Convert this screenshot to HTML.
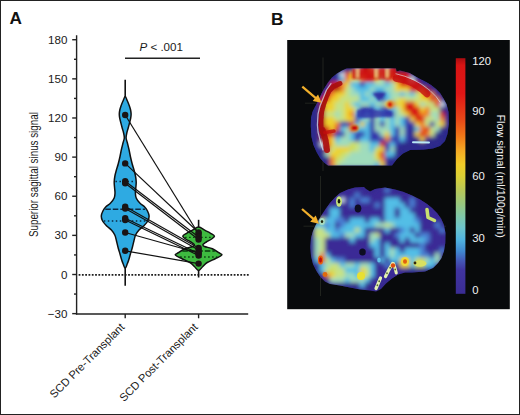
<!DOCTYPE html><html><head><meta charset="utf-8"><style>
html,body{margin:0;padding:0;background:#fff;}
svg{display:block;}
text{font-family:"Liberation Sans",sans-serif;}
</style></head><body>
<svg width="520" height="415" viewBox="0 0 520 415">
<rect x="0" y="0" width="520" height="415" fill="#fff"/>

<text x="9.4" y="24.1" font-size="17.2" font-weight="bold" fill="#111">A</text>
<text x="271" y="24.9" font-size="17.4" font-weight="bold" fill="#111">B</text>
<g stroke="#222" stroke-width="1.4" fill="none">
<line x1="76.6" y1="35.2" x2="76.6" y2="314.5"/>
<line x1="75.9" y1="314" x2="248.2" y2="314"/>
<line x1="72.2" y1="313.63" x2="76.6" y2="313.63"/>
<line x1="72.2" y1="274.50" x2="76.6" y2="274.50"/>
<line x1="72.2" y1="235.37" x2="76.6" y2="235.37"/>
<line x1="72.2" y1="196.24" x2="76.6" y2="196.24"/>
<line x1="72.2" y1="157.11" x2="76.6" y2="157.11"/>
<line x1="72.2" y1="117.98" x2="76.6" y2="117.98"/>
<line x1="72.2" y1="78.85" x2="76.6" y2="78.85"/>
<line x1="72.2" y1="39.73" x2="76.6" y2="39.73"/>
<line x1="74.0" y1="294.06" x2="76.6" y2="294.06"/>
<line x1="74.0" y1="254.94" x2="76.6" y2="254.94"/>
<line x1="74.0" y1="215.81" x2="76.6" y2="215.81"/>
<line x1="74.0" y1="176.68" x2="76.6" y2="176.68"/>
<line x1="74.0" y1="137.55" x2="76.6" y2="137.55"/>
<line x1="74.0" y1="98.42" x2="76.6" y2="98.42"/>
<line x1="74.0" y1="59.29" x2="76.6" y2="59.29"/>
<line x1="125.2" y1="314" x2="125.2" y2="318.3"/>
<line x1="198.6" y1="314" x2="198.6" y2="318.3"/>
</g>
<g font-size="11.6" fill="#1a1a1a" text-anchor="end">
<text x="67.4" y="317.73">−30</text>
<text x="67.4" y="278.60">0</text>
<text x="67.4" y="239.47">30</text>
<text x="67.4" y="200.34">60</text>
<text x="67.4" y="161.21">90</text>
<text x="67.4" y="122.08">120</text>
<text x="67.4" y="82.95">150</text>
<text x="67.4" y="43.83">180</text>
</g>
<text transform="translate(38.3,174.6) rotate(-90) scale(0.78,1)" font-size="12.6" fill="#1a1a1a" text-anchor="middle">Superior sagittal sinus signal</text>
<line x1="78.6" y1="274.8" x2="249" y2="274.8" stroke="#1e1e1e" stroke-width="1.8" stroke-dasharray="1.8,1.5"/>
<line x1="125.2" y1="79.8" x2="125.2" y2="285.8" stroke="#111" stroke-width="1.6"/>
<line x1="198.6" y1="219.8" x2="198.6" y2="277.5" stroke="#111" stroke-width="1.6"/>
<path d="M125.20,96.50 C125.93,96.50 126.70,99.42 127.40,101.00 C128.10,102.58 128.87,104.50 129.40,106.00 C129.93,107.50 130.32,108.67 130.60,110.00 C130.88,111.33 131.08,112.67 131.10,114.00 C131.12,115.33 130.97,116.50 130.70,118.00 C130.43,119.50 129.92,121.33 129.50,123.00 C129.08,124.67 128.65,126.33 128.20,128.00 C127.75,129.67 127.15,131.33 126.80,133.00 C126.45,134.67 126.00,136.33 126.10,138.00 C126.20,139.67 126.90,141.00 127.40,143.00 C127.90,145.00 128.58,147.67 129.10,150.00 C129.62,152.33 129.98,154.67 130.50,157.00 C131.02,159.33 131.62,161.83 132.20,164.00 C132.78,166.17 133.45,168.00 134.00,170.00 C134.55,172.00 135.13,174.00 135.50,176.00 C135.87,178.00 136.15,180.00 136.20,182.00 C136.25,184.00 135.93,186.17 135.80,188.00 C135.67,189.83 135.33,191.33 135.40,193.00 C135.47,194.67 135.47,196.33 136.20,198.00 C136.93,199.67 138.38,201.50 139.80,203.00 C141.22,204.50 143.42,205.67 144.70,207.00 C145.98,208.33 146.77,209.50 147.50,211.00 C148.23,212.50 149.05,214.33 149.10,216.00 C149.15,217.67 148.70,219.33 147.80,221.00 C146.90,222.67 145.17,224.50 143.70,226.00 C142.23,227.50 140.35,228.50 139.00,230.00 C137.65,231.50 136.45,233.17 135.60,235.00 C134.75,236.83 134.47,238.83 133.90,241.00 C133.33,243.17 132.78,245.83 132.20,248.00 C131.62,250.17 130.98,252.00 130.40,254.00 C129.82,256.00 129.23,258.33 128.70,260.00 C128.17,261.67 127.78,262.62 127.20,264.00 C126.62,265.38 125.87,268.30 125.20,268.30 C124.53,268.30 123.78,265.38 123.20,264.00 C122.62,262.62 122.23,261.67 121.70,260.00 C121.17,258.33 120.58,256.00 120.00,254.00 C119.42,252.00 118.78,250.17 118.20,248.00 C117.62,245.83 117.07,243.17 116.50,241.00 C115.93,238.83 115.65,236.83 114.80,235.00 C113.95,233.17 112.75,231.50 111.40,230.00 C110.05,228.50 108.17,227.50 106.70,226.00 C105.23,224.50 103.50,222.67 102.60,221.00 C101.70,219.33 101.25,217.67 101.30,216.00 C101.35,214.33 102.17,212.50 102.90,211.00 C103.63,209.50 104.42,208.33 105.70,207.00 C106.98,205.67 109.18,204.50 110.60,203.00 C112.02,201.50 113.47,199.67 114.20,198.00 C114.93,196.33 114.93,194.67 115.00,193.00 C115.07,191.33 114.73,189.83 114.60,188.00 C114.47,186.17 114.15,184.00 114.20,182.00 C114.25,180.00 114.53,178.00 114.90,176.00 C115.27,174.00 115.85,172.00 116.40,170.00 C116.95,168.00 117.62,166.17 118.20,164.00 C118.78,161.83 119.38,159.33 119.90,157.00 C120.42,154.67 120.78,152.33 121.30,150.00 C121.82,147.67 122.50,145.00 123.00,143.00 C123.50,141.00 124.20,139.67 124.30,138.00 C124.40,136.33 123.95,134.67 123.60,133.00 C123.25,131.33 122.65,129.67 122.20,128.00 C121.75,126.33 121.32,124.67 120.90,123.00 C120.48,121.33 119.97,119.50 119.70,118.00 C119.43,116.50 119.28,115.33 119.30,114.00 C119.32,112.67 119.52,111.33 119.80,110.00 C120.08,108.67 120.47,107.50 121.00,106.00 C121.53,104.50 122.30,102.58 123.00,101.00 C123.70,99.42 124.47,96.50 125.20,96.50Z" fill="#2eaae2" stroke="#111" stroke-width="1.5"/>
<path d="M198.60,227.00 C200.77,227.00 203.10,229.35 205.10,230.40 C207.10,231.45 209.05,232.33 210.60,233.30 C212.15,234.27 214.23,235.25 214.40,236.20 C214.57,237.15 212.95,238.03 211.60,239.00 C210.25,239.97 207.73,241.07 206.30,242.00 C204.87,242.93 203.28,243.85 203.00,244.60 C202.72,245.35 203.03,245.82 204.60,246.50 C206.17,247.18 210.03,247.67 212.40,248.70 C214.77,249.73 217.23,251.65 218.80,252.70 C220.37,253.75 222.33,254.03 221.80,255.00 C221.27,255.97 218.03,257.25 215.60,258.50 C213.17,259.75 209.33,261.17 207.20,262.50 C205.07,263.83 204.23,265.18 202.80,266.50 C201.37,267.82 200.00,270.40 198.60,270.40 C197.20,270.40 195.83,267.82 194.40,266.50 C192.97,265.18 192.13,263.83 190.00,262.50 C187.87,261.17 184.03,259.75 181.60,258.50 C179.17,257.25 175.93,255.97 175.40,255.00 C174.87,254.03 176.83,253.75 178.40,252.70 C179.97,251.65 182.43,249.73 184.80,248.70 C187.17,247.67 191.03,247.18 192.60,246.50 C194.17,245.82 194.48,245.35 194.20,244.60 C193.92,243.85 192.33,242.93 190.90,242.00 C189.47,241.07 186.95,239.97 185.60,239.00 C184.25,238.03 182.63,237.15 182.80,236.20 C182.97,235.25 185.05,234.27 186.60,233.30 C188.15,232.33 190.10,231.45 192.10,230.40 C194.10,229.35 196.43,227.00 198.60,227.00Z" fill="#3eba40" stroke="#111" stroke-width="1.5"/>
<line x1="115.46" y1="181.5" x2="134.94" y2="181.5" stroke="#0c2a44" stroke-width="1.3" stroke-dasharray="1.5,2.5"/>
<line x1="105.29" y1="209.3" x2="145.11" y2="209.3" stroke="#0c2a44" stroke-width="1.6" stroke-dasharray="5.5,2"/>
<line x1="103.80" y1="221.0" x2="146.60" y2="221.0" stroke="#0c2a44" stroke-width="1.3" stroke-dasharray="1.5,2.5"/>
<line x1="185.10" y1="237.3" x2="212.10" y2="237.3" stroke="#0a3a0e" stroke-width="1.3" stroke-dasharray="1.5,2.5"/>
<line x1="182.32" y1="251.0" x2="214.88" y2="251.0" stroke="#0a3a0e" stroke-width="1.5" stroke-dasharray="5.5,2"/>
<line x1="180.14" y1="257.0" x2="217.06" y2="257.0" stroke="#0a3a0e" stroke-width="1.3" stroke-dasharray="1.5,2.5"/>
<g stroke="#111" stroke-width="1.2">
<line x1="125.2" y1="115.0" x2="198.6" y2="234.0"/>
<line x1="125.2" y1="163.4" x2="198.6" y2="232.5"/>
<line x1="125.2" y1="181.3" x2="198.6" y2="237.0"/>
<line x1="125.2" y1="183.2" x2="198.6" y2="239.5"/>
<line x1="125.2" y1="206.6" x2="198.6" y2="248.0"/>
<line x1="125.2" y1="208.6" x2="198.6" y2="250.0"/>
<line x1="125.2" y1="218.2" x2="198.6" y2="253.5"/>
<line x1="125.2" y1="220.0" x2="198.6" y2="255.5"/>
<line x1="125.2" y1="232.5" x2="198.6" y2="253.0"/>
<line x1="125.2" y1="250.8" x2="198.6" y2="263.6"/>
</g>
<g fill="#1a1414">
<circle cx="125.2" cy="115.0" r="3.2"/>
<circle cx="125.2" cy="163.4" r="3.2"/>
<circle cx="125.2" cy="181.3" r="3.2"/>
<circle cx="125.2" cy="183.2" r="3.2"/>
<circle cx="125.2" cy="206.6" r="3.2"/>
<circle cx="125.2" cy="208.6" r="3.2"/>
<circle cx="125.2" cy="218.2" r="3.2"/>
<circle cx="125.2" cy="220.0" r="3.2"/>
<circle cx="125.2" cy="232.5" r="3.2"/>
<circle cx="125.2" cy="250.8" r="3.2"/>
<circle cx="198.6" cy="234.0" r="3.2"/>
<circle cx="198.6" cy="232.5" r="3.2"/>
<circle cx="198.6" cy="237.0" r="3.2"/>
<circle cx="198.6" cy="239.5" r="3.2"/>
<circle cx="198.6" cy="248.0" r="3.2"/>
<circle cx="198.6" cy="250.0" r="3.2"/>
<circle cx="198.6" cy="253.5" r="3.2"/>
<circle cx="198.6" cy="255.5" r="3.2"/>
<circle cx="198.6" cy="253.0" r="3.2"/>
<circle cx="198.6" cy="263.6" r="3.2"/>
</g>
<line x1="125" y1="58.3" x2="200" y2="58.3" stroke="#222" stroke-width="1.5"/>
<text x="161.2" y="51.2" font-size="11.6" fill="#1a1a1a" text-anchor="middle"><tspan font-style="italic">P</tspan> &lt; .001</text>
<text transform="translate(125.2,327.8) rotate(-45)" font-size="11.2" fill="#1a1a1a" text-anchor="end">SCD Pre-Transplant</text>
<text transform="translate(198.4,327.8) rotate(-45)" font-size="11.2" fill="#1a1a1a" text-anchor="end">SCD Post-Transplant</text>
<rect x="287.2" y="40" width="222.6" height="269.2" fill="#080a0c"/>
<defs>
<filter id="bl1" x="-10%" y="-10%" width="120%" height="120%"><feGaussianBlur stdDeviation="2.0"/></filter>
<filter id="bl2" x="-20%" y="-20%" width="140%" height="140%"><feGaussianBlur stdDeviation="0.7"/></filter>
<filter id="bl4" x="-20%" y="-20%" width="140%" height="140%"><feGaussianBlur stdDeviation="1.3"/></filter>
<filter id="bl3" x="-10%" y="-10%" width="120%" height="120%"><feGaussianBlur stdDeviation="0.75"/></filter>
</defs>
<g stroke="#4c5040" stroke-width="0.9" opacity="0.4">
<line x1="323" y1="57.5" x2="323" y2="171"/>
<line x1="305" y1="103.2" x2="446" y2="103.2"/>
<line x1="320.5" y1="176" x2="320.5" y2="296"/>
<line x1="303.5" y1="226.2" x2="446" y2="226.2"/>
</g>
<defs><clipPath id="cu2"><path d="M347,68.6 L396,68.6 L396.5,71.5 L400,70.5 L409.6,73 L419,78.5 L426,82 L431,85 L436,89 L440,93 L443.5,98.5 L446.5,104 L448.5,112 L448.8,124 L447.5,134 L445,141 L440,146 L433,148.5 L424,149.5 L410,150 L403,153.5 L397,159 L392,165.6 L328,165.6 L324,162.5 L320,158 L316.5,152 L313.5,145 L311.5,137 L310.8,126 L311,118 L312.5,112 L315,107 L318.5,100.5 L321.5,93.5 L324.5,88 L328,82.5 L332,77.5 L337,73.5 L342,70.5 L346,68.8 Z"/></clipPath><clipPath id="cl2"><path d="M318,221 L322,214.5 L326,208.5 L330,203 L335,197.5 L340,193 L348,189.5 L355,187.5 L364,187 L366,189 L370,191.5 L375,189 L385,187.5 L395,189.5 L403,191.8 L412,195.5 L420,199.5 L427,204 L432,208 L437,213 L441,218.5 L444,225 L445.5,233 L445.3,243 L444,251 L441.5,258 L438,263 L433,268 L425,271.5 L412,272.5 L405,272.5 L398,274.5 L392,278.5 L386,283.5 L381,289 L376,291.5 L370,290.5 L360,289.5 L350,287.5 L340,285.5 L330,284 L325,281.5 L320.5,277 L316.5,271 L313,264 L311,256 L310.3,247 L311,238 L313,231 L315.5,225.5 Z"/></clipPath></defs>
<g filter="url(#bl3)"><g clip-path="url(#cu2)"><rect x="300" y="60" width="155" height="110" fill="#2c288a"/><g filter="url(#bl1)"><rect x="344.7" y="66.7" width="5.6" height="5.6" fill="#2e2a8c"/><rect x="349.7" y="66.7" width="5.6" height="5.6" fill="#2e2a8c"/><rect x="354.7" y="66.7" width="5.6" height="5.6" fill="#d4e8ee"/><rect x="359.7" y="66.7" width="5.6" height="5.6" fill="#d81818"/><rect x="364.7" y="66.7" width="5.6" height="5.6" fill="#a60c0e"/><rect x="369.7" y="66.7" width="5.6" height="5.6" fill="#f08020"/><rect x="374.7" y="66.7" width="5.6" height="5.6" fill="#d4e8ee"/><rect x="379.7" y="66.7" width="5.6" height="5.6" fill="#d81818"/><rect x="384.7" y="66.7" width="5.6" height="5.6" fill="#d4e8ee"/><rect x="389.7" y="66.7" width="5.6" height="5.6" fill="#d81818"/><rect x="334.7" y="71.7" width="5.6" height="5.6" fill="#2e2a8c"/><rect x="339.7" y="71.7" width="5.6" height="5.6" fill="#d4e8ee"/><rect x="344.7" y="71.7" width="5.6" height="5.6" fill="#d81818"/><rect x="349.7" y="71.7" width="5.6" height="5.6" fill="#eed22e"/><rect x="354.7" y="71.7" width="5.6" height="5.6" fill="#d81818"/><rect x="359.7" y="71.7" width="5.6" height="5.6" fill="#d81818"/><rect x="364.7" y="71.7" width="5.6" height="5.6" fill="#d81818"/><rect x="369.7" y="71.7" width="5.6" height="5.6" fill="#d81818"/><rect x="374.7" y="71.7" width="5.6" height="5.6" fill="#eed22e"/><rect x="379.7" y="71.7" width="5.6" height="5.6" fill="#d81818"/><rect x="384.7" y="71.7" width="5.6" height="5.6" fill="#eed22e"/><rect x="389.7" y="71.7" width="5.6" height="5.6" fill="#d81818"/><rect x="394.7" y="71.7" width="5.6" height="5.6" fill="#d81818"/><rect x="399.7" y="71.7" width="5.6" height="5.6" fill="#d81818"/><rect x="404.7" y="71.7" width="5.6" height="5.6" fill="#d81818"/><rect x="409.7" y="71.7" width="5.6" height="5.6" fill="#2e2a8c"/><rect x="414.7" y="71.7" width="5.6" height="5.6" fill="#2e2a8c"/><rect x="329.7" y="76.7" width="5.6" height="5.6" fill="#2e2a8c"/><rect x="334.7" y="76.7" width="5.6" height="5.6" fill="#3436ac"/><rect x="339.7" y="76.7" width="5.6" height="5.6" fill="#52bee6"/><rect x="344.7" y="76.7" width="5.6" height="5.6" fill="#f08020"/><rect x="349.7" y="76.7" width="5.6" height="5.6" fill="#eed22e"/><rect x="354.7" y="76.7" width="5.6" height="5.6" fill="#c6e286"/><rect x="359.7" y="76.7" width="5.6" height="5.6" fill="#f08020"/><rect x="364.7" y="76.7" width="5.6" height="5.6" fill="#d81818"/><rect x="369.7" y="76.7" width="5.6" height="5.6" fill="#d81818"/><rect x="374.7" y="76.7" width="5.6" height="5.6" fill="#eed22e"/><rect x="379.7" y="76.7" width="5.6" height="5.6" fill="#a0dcbc"/><rect x="384.7" y="76.7" width="5.6" height="5.6" fill="#d81818"/><rect x="389.7" y="76.7" width="5.6" height="5.6" fill="#f08020"/><rect x="394.7" y="76.7" width="5.6" height="5.6" fill="#d81818"/><rect x="399.7" y="76.7" width="5.6" height="5.6" fill="#d81818"/><rect x="404.7" y="76.7" width="5.6" height="5.6" fill="#d81818"/><rect x="409.7" y="76.7" width="5.6" height="5.6" fill="#d4e8ee"/><rect x="414.7" y="76.7" width="5.6" height="5.6" fill="#2e2a8c"/><rect x="419.7" y="76.7" width="5.6" height="5.6" fill="#2e2a8c"/><rect x="424.7" y="76.7" width="5.6" height="5.6" fill="#2e2a8c"/><rect x="324.7" y="81.7" width="5.6" height="5.6" fill="#2e2a8c"/><rect x="329.7" y="81.7" width="5.6" height="5.6" fill="#d81818"/><rect x="334.7" y="81.7" width="5.6" height="5.6" fill="#d81818"/><rect x="339.7" y="81.7" width="5.6" height="5.6" fill="#f08020"/><rect x="344.7" y="81.7" width="5.6" height="5.6" fill="#eed22e"/><rect x="349.7" y="81.7" width="5.6" height="5.6" fill="#52bee6"/><rect x="354.7" y="81.7" width="5.6" height="5.6" fill="#52bee6"/><rect x="359.7" y="81.7" width="5.6" height="5.6" fill="#3436ac"/><rect x="364.7" y="81.7" width="5.6" height="5.6" fill="#52bee6"/><rect x="369.7" y="81.7" width="5.6" height="5.6" fill="#52bee6"/><rect x="374.7" y="81.7" width="5.6" height="5.6" fill="#a0dcbc"/><rect x="379.7" y="81.7" width="5.6" height="5.6" fill="#a0dcbc"/><rect x="384.7" y="81.7" width="5.6" height="5.6" fill="#52bee6"/><rect x="389.7" y="81.7" width="5.6" height="5.6" fill="#a0dcbc"/><rect x="394.7" y="81.7" width="5.6" height="5.6" fill="#eed22e"/><rect x="399.7" y="81.7" width="5.6" height="5.6" fill="#d81818"/><rect x="404.7" y="81.7" width="5.6" height="5.6" fill="#d81818"/><rect x="409.7" y="81.7" width="5.6" height="5.6" fill="#d81818"/><rect x="414.7" y="81.7" width="5.6" height="5.6" fill="#d81818"/><rect x="419.7" y="81.7" width="5.6" height="5.6" fill="#2e2a8c"/><rect x="424.7" y="81.7" width="5.6" height="5.6" fill="#2e2a8c"/><rect x="429.7" y="81.7" width="5.6" height="5.6" fill="#2e2a8c"/><rect x="319.7" y="86.7" width="5.6" height="5.6" fill="#2e2a8c"/><rect x="324.7" y="86.7" width="5.6" height="5.6" fill="#2e2a8c"/><rect x="329.7" y="86.7" width="5.6" height="5.6" fill="#d81818"/><rect x="334.7" y="86.7" width="5.6" height="5.6" fill="#a60c0e"/><rect x="339.7" y="86.7" width="5.6" height="5.6" fill="#f08020"/><rect x="344.7" y="86.7" width="5.6" height="5.6" fill="#c6e286"/><rect x="349.7" y="86.7" width="5.6" height="5.6" fill="#a0dcbc"/><rect x="354.7" y="86.7" width="5.6" height="5.6" fill="#52bee6"/><rect x="359.7" y="86.7" width="5.6" height="5.6" fill="#52bee6"/><rect x="364.7" y="86.7" width="5.6" height="5.6" fill="#52bee6"/><rect x="369.7" y="86.7" width="5.6" height="5.6" fill="#a0dcbc"/><rect x="374.7" y="86.7" width="5.6" height="5.6" fill="#52bee6"/><rect x="379.7" y="86.7" width="5.6" height="5.6" fill="#52bee6"/><rect x="384.7" y="86.7" width="5.6" height="5.6" fill="#a0dcbc"/><rect x="389.7" y="86.7" width="5.6" height="5.6" fill="#a0dcbc"/><rect x="394.7" y="86.7" width="5.6" height="5.6" fill="#eed22e"/><rect x="399.7" y="86.7" width="5.6" height="5.6" fill="#eed22e"/><rect x="404.7" y="86.7" width="5.6" height="5.6" fill="#eed22e"/><rect x="409.7" y="86.7" width="5.6" height="5.6" fill="#d81818"/><rect x="414.7" y="86.7" width="5.6" height="5.6" fill="#d81818"/><rect x="419.7" y="86.7" width="5.6" height="5.6" fill="#f08020"/><rect x="424.7" y="86.7" width="5.6" height="5.6" fill="#a60c0e"/><rect x="429.7" y="86.7" width="5.6" height="5.6" fill="#2e2a8c"/><rect x="434.7" y="86.7" width="5.6" height="5.6" fill="#2e2a8c"/><rect x="314.7" y="91.7" width="5.6" height="5.6" fill="#2e2a8c"/><rect x="319.7" y="91.7" width="5.6" height="5.6" fill="#2e2a8c"/><rect x="324.7" y="91.7" width="5.6" height="5.6" fill="#d81818"/><rect x="329.7" y="91.7" width="5.6" height="5.6" fill="#f08020"/><rect x="334.7" y="91.7" width="5.6" height="5.6" fill="#eed22e"/><rect x="339.7" y="91.7" width="5.6" height="5.6" fill="#eed22e"/><rect x="344.7" y="91.7" width="5.6" height="5.6" fill="#c6e286"/><rect x="349.7" y="91.7" width="5.6" height="5.6" fill="#a0dcbc"/><rect x="354.7" y="91.7" width="5.6" height="5.6" fill="#a0dcbc"/><rect x="359.7" y="91.7" width="5.6" height="5.6" fill="#52bee6"/><rect x="364.7" y="91.7" width="5.6" height="5.6" fill="#a0dcbc"/><rect x="369.7" y="91.7" width="5.6" height="5.6" fill="#52bee6"/><rect x="374.7" y="91.7" width="5.6" height="5.6" fill="#3436ac"/><rect x="379.7" y="91.7" width="5.6" height="5.6" fill="#3436ac"/><rect x="384.7" y="91.7" width="5.6" height="5.6" fill="#52bee6"/><rect x="389.7" y="91.7" width="5.6" height="5.6" fill="#a0dcbc"/><rect x="394.7" y="91.7" width="5.6" height="5.6" fill="#a0dcbc"/><rect x="399.7" y="91.7" width="5.6" height="5.6" fill="#52bee6"/><rect x="404.7" y="91.7" width="5.6" height="5.6" fill="#a0dcbc"/><rect x="409.7" y="91.7" width="5.6" height="5.6" fill="#52bee6"/><rect x="414.7" y="91.7" width="5.6" height="5.6" fill="#c6e286"/><rect x="419.7" y="91.7" width="5.6" height="5.6" fill="#eed22e"/><rect x="424.7" y="91.7" width="5.6" height="5.6" fill="#d81818"/><rect x="429.7" y="91.7" width="5.6" height="5.6" fill="#f08020"/><rect x="434.7" y="91.7" width="5.6" height="5.6" fill="#2e2a8c"/><rect x="439.7" y="91.7" width="5.6" height="5.6" fill="#2e2a8c"/><rect x="314.7" y="96.7" width="5.6" height="5.6" fill="#2e2a8c"/><rect x="319.7" y="96.7" width="5.6" height="5.6" fill="#d81818"/><rect x="324.7" y="96.7" width="5.6" height="5.6" fill="#d81818"/><rect x="329.7" y="96.7" width="5.6" height="5.6" fill="#eed22e"/><rect x="334.7" y="96.7" width="5.6" height="5.6" fill="#eed22e"/><rect x="339.7" y="96.7" width="5.6" height="5.6" fill="#c6e286"/><rect x="344.7" y="96.7" width="5.6" height="5.6" fill="#c6e286"/><rect x="349.7" y="96.7" width="5.6" height="5.6" fill="#c6e286"/><rect x="354.7" y="96.7" width="5.6" height="5.6" fill="#c6e286"/><rect x="359.7" y="96.7" width="5.6" height="5.6" fill="#52bee6"/><rect x="364.7" y="96.7" width="5.6" height="5.6" fill="#52bee6"/><rect x="369.7" y="96.7" width="5.6" height="5.6" fill="#a0dcbc"/><rect x="374.7" y="96.7" width="5.6" height="5.6" fill="#52bee6"/><rect x="379.7" y="96.7" width="5.6" height="5.6" fill="#3436ac"/><rect x="384.7" y="96.7" width="5.6" height="5.6" fill="#52bee6"/><rect x="389.7" y="96.7" width="5.6" height="5.6" fill="#a0dcbc"/><rect x="394.7" y="96.7" width="5.6" height="5.6" fill="#c6e286"/><rect x="399.7" y="96.7" width="5.6" height="5.6" fill="#eed22e"/><rect x="404.7" y="96.7" width="5.6" height="5.6" fill="#c6e286"/><rect x="409.7" y="96.7" width="5.6" height="5.6" fill="#c6e286"/><rect x="414.7" y="96.7" width="5.6" height="5.6" fill="#c6e286"/><rect x="419.7" y="96.7" width="5.6" height="5.6" fill="#eed22e"/><rect x="424.7" y="96.7" width="5.6" height="5.6" fill="#eed22e"/><rect x="429.7" y="96.7" width="5.6" height="5.6" fill="#d81818"/><rect x="434.7" y="96.7" width="5.6" height="5.6" fill="#f08020"/><rect x="439.7" y="96.7" width="5.6" height="5.6" fill="#2e2a8c"/><rect x="309.7" y="101.7" width="5.6" height="5.6" fill="#2e2a8c"/><rect x="314.7" y="101.7" width="5.6" height="5.6" fill="#2e2a8c"/><rect x="319.7" y="101.7" width="5.6" height="5.6" fill="#a60c0e"/><rect x="324.7" y="101.7" width="5.6" height="5.6" fill="#eed22e"/><rect x="329.7" y="101.7" width="5.6" height="5.6" fill="#eed22e"/><rect x="334.7" y="101.7" width="5.6" height="5.6" fill="#c6e286"/><rect x="339.7" y="101.7" width="5.6" height="5.6" fill="#c6e286"/><rect x="344.7" y="101.7" width="5.6" height="5.6" fill="#eed22e"/><rect x="349.7" y="101.7" width="5.6" height="5.6" fill="#a0dcbc"/><rect x="354.7" y="101.7" width="5.6" height="5.6" fill="#52bee6"/><rect x="359.7" y="101.7" width="5.6" height="5.6" fill="#a0dcbc"/><rect x="364.7" y="101.7" width="5.6" height="5.6" fill="#a0dcbc"/><rect x="369.7" y="101.7" width="5.6" height="5.6" fill="#52bee6"/><rect x="374.7" y="101.7" width="5.6" height="5.6" fill="#a0dcbc"/><rect x="379.7" y="101.7" width="5.6" height="5.6" fill="#a0dcbc"/><rect x="384.7" y="101.7" width="5.6" height="5.6" fill="#eed22e"/><rect x="389.7" y="101.7" width="5.6" height="5.6" fill="#d81818"/><rect x="394.7" y="101.7" width="5.6" height="5.6" fill="#eed22e"/><rect x="399.7" y="101.7" width="5.6" height="5.6" fill="#eed22e"/><rect x="404.7" y="101.7" width="5.6" height="5.6" fill="#d81818"/><rect x="409.7" y="101.7" width="5.6" height="5.6" fill="#d81818"/><rect x="414.7" y="101.7" width="5.6" height="5.6" fill="#eed22e"/><rect x="419.7" y="101.7" width="5.6" height="5.6" fill="#a0dcbc"/><rect x="424.7" y="101.7" width="5.6" height="5.6" fill="#c6e286"/><rect x="429.7" y="101.7" width="5.6" height="5.6" fill="#c6e286"/><rect x="434.7" y="101.7" width="5.6" height="5.6" fill="#d81818"/><rect x="439.7" y="101.7" width="5.6" height="5.6" fill="#d4e8ee"/><rect x="444.7" y="101.7" width="5.6" height="5.6" fill="#2e2a8c"/><rect x="309.7" y="106.7" width="5.6" height="5.6" fill="#2e2a8c"/><rect x="314.7" y="106.7" width="5.6" height="5.6" fill="#2e2a8c"/><rect x="319.7" y="106.7" width="5.6" height="5.6" fill="#a60c0e"/><rect x="324.7" y="106.7" width="5.6" height="5.6" fill="#eed22e"/><rect x="329.7" y="106.7" width="5.6" height="5.6" fill="#eed22e"/><rect x="334.7" y="106.7" width="5.6" height="5.6" fill="#c6e286"/><rect x="339.7" y="106.7" width="5.6" height="5.6" fill="#c6e286"/><rect x="344.7" y="106.7" width="5.6" height="5.6" fill="#eed22e"/><rect x="349.7" y="106.7" width="5.6" height="5.6" fill="#eed22e"/><rect x="354.7" y="106.7" width="5.6" height="5.6" fill="#a0dcbc"/><rect x="359.7" y="106.7" width="5.6" height="5.6" fill="#3436ac"/><rect x="364.7" y="106.7" width="5.6" height="5.6" fill="#3436ac"/><rect x="369.7" y="106.7" width="5.6" height="5.6" fill="#3436ac"/><rect x="374.7" y="106.7" width="5.6" height="5.6" fill="#52bee6"/><rect x="379.7" y="106.7" width="5.6" height="5.6" fill="#3436ac"/><rect x="384.7" y="106.7" width="5.6" height="5.6" fill="#3436ac"/><rect x="389.7" y="106.7" width="5.6" height="5.6" fill="#52bee6"/><rect x="394.7" y="106.7" width="5.6" height="5.6" fill="#a0dcbc"/><rect x="399.7" y="106.7" width="5.6" height="5.6" fill="#eed22e"/><rect x="404.7" y="106.7" width="5.6" height="5.6" fill="#d81818"/><rect x="409.7" y="106.7" width="5.6" height="5.6" fill="#d81818"/><rect x="414.7" y="106.7" width="5.6" height="5.6" fill="#d81818"/><rect x="419.7" y="106.7" width="5.6" height="5.6" fill="#eed22e"/><rect x="424.7" y="106.7" width="5.6" height="5.6" fill="#f08020"/><rect x="429.7" y="106.7" width="5.6" height="5.6" fill="#c6e286"/><rect x="434.7" y="106.7" width="5.6" height="5.6" fill="#c6e286"/><rect x="439.7" y="106.7" width="5.6" height="5.6" fill="#2e2a8c"/><rect x="444.7" y="106.7" width="5.6" height="5.6" fill="#2e2a8c"/><rect x="309.7" y="111.7" width="5.6" height="5.6" fill="#2e2a8c"/><rect x="314.7" y="111.7" width="5.6" height="5.6" fill="#2e2a8c"/><rect x="319.7" y="111.7" width="5.6" height="5.6" fill="#a60c0e"/><rect x="324.7" y="111.7" width="5.6" height="5.6" fill="#c6e286"/><rect x="329.7" y="111.7" width="5.6" height="5.6" fill="#c6e286"/><rect x="334.7" y="111.7" width="5.6" height="5.6" fill="#a0dcbc"/><rect x="339.7" y="111.7" width="5.6" height="5.6" fill="#c6e286"/><rect x="344.7" y="111.7" width="5.6" height="5.6" fill="#eed22e"/><rect x="349.7" y="111.7" width="5.6" height="5.6" fill="#f08020"/><rect x="354.7" y="111.7" width="5.6" height="5.6" fill="#52bee6"/><rect x="359.7" y="111.7" width="5.6" height="5.6" fill="#3436ac"/><rect x="364.7" y="111.7" width="5.6" height="5.6" fill="#52bee6"/><rect x="369.7" y="111.7" width="5.6" height="5.6" fill="#3436ac"/><rect x="374.7" y="111.7" width="5.6" height="5.6" fill="#a0dcbc"/><rect x="379.7" y="111.7" width="5.6" height="5.6" fill="#52bee6"/><rect x="384.7" y="111.7" width="5.6" height="5.6" fill="#3436ac"/><rect x="389.7" y="111.7" width="5.6" height="5.6" fill="#3436ac"/><rect x="394.7" y="111.7" width="5.6" height="5.6" fill="#a0dcbc"/><rect x="399.7" y="111.7" width="5.6" height="5.6" fill="#c6e286"/><rect x="404.7" y="111.7" width="5.6" height="5.6" fill="#eed22e"/><rect x="409.7" y="111.7" width="5.6" height="5.6" fill="#d81818"/><rect x="414.7" y="111.7" width="5.6" height="5.6" fill="#d81818"/><rect x="419.7" y="111.7" width="5.6" height="5.6" fill="#f08020"/><rect x="424.7" y="111.7" width="5.6" height="5.6" fill="#f08020"/><rect x="429.7" y="111.7" width="5.6" height="5.6" fill="#a0dcbc"/><rect x="434.7" y="111.7" width="5.6" height="5.6" fill="#a0dcbc"/><rect x="439.7" y="111.7" width="5.6" height="5.6" fill="#d81818"/><rect x="444.7" y="111.7" width="5.6" height="5.6" fill="#2e2a8c"/><rect x="309.7" y="116.7" width="5.6" height="5.6" fill="#2e2a8c"/><rect x="314.7" y="116.7" width="5.6" height="5.6" fill="#2e2a8c"/><rect x="319.7" y="116.7" width="5.6" height="5.6" fill="#a60c0e"/><rect x="324.7" y="116.7" width="5.6" height="5.6" fill="#eed22e"/><rect x="329.7" y="116.7" width="5.6" height="5.6" fill="#eed22e"/><rect x="334.7" y="116.7" width="5.6" height="5.6" fill="#c6e286"/><rect x="339.7" y="116.7" width="5.6" height="5.6" fill="#c6e286"/><rect x="344.7" y="116.7" width="5.6" height="5.6" fill="#eed22e"/><rect x="349.7" y="116.7" width="5.6" height="5.6" fill="#eed22e"/><rect x="354.7" y="116.7" width="5.6" height="5.6" fill="#3436ac"/><rect x="359.7" y="116.7" width="5.6" height="5.6" fill="#52bee6"/><rect x="364.7" y="116.7" width="5.6" height="5.6" fill="#a0dcbc"/><rect x="369.7" y="116.7" width="5.6" height="5.6" fill="#3436ac"/><rect x="374.7" y="116.7" width="5.6" height="5.6" fill="#a0dcbc"/><rect x="379.7" y="116.7" width="5.6" height="5.6" fill="#52bee6"/><rect x="384.7" y="116.7" width="5.6" height="5.6" fill="#a0dcbc"/><rect x="389.7" y="116.7" width="5.6" height="5.6" fill="#52bee6"/><rect x="394.7" y="116.7" width="5.6" height="5.6" fill="#a0dcbc"/><rect x="399.7" y="116.7" width="5.6" height="5.6" fill="#52bee6"/><rect x="404.7" y="116.7" width="5.6" height="5.6" fill="#3436ac"/><rect x="409.7" y="116.7" width="5.6" height="5.6" fill="#eed22e"/><rect x="414.7" y="116.7" width="5.6" height="5.6" fill="#d81818"/><rect x="419.7" y="116.7" width="5.6" height="5.6" fill="#d81818"/><rect x="424.7" y="116.7" width="5.6" height="5.6" fill="#c6e286"/><rect x="429.7" y="116.7" width="5.6" height="5.6" fill="#c6e286"/><rect x="434.7" y="116.7" width="5.6" height="5.6" fill="#a0dcbc"/><rect x="439.7" y="116.7" width="5.6" height="5.6" fill="#f08020"/><rect x="444.7" y="116.7" width="5.6" height="5.6" fill="#2e2a8c"/><rect x="309.7" y="121.7" width="5.6" height="5.6" fill="#2e2a8c"/><rect x="314.7" y="121.7" width="5.6" height="5.6" fill="#2e2a8c"/><rect x="319.7" y="121.7" width="5.6" height="5.6" fill="#a60c0e"/><rect x="324.7" y="121.7" width="5.6" height="5.6" fill="#eed22e"/><rect x="329.7" y="121.7" width="5.6" height="5.6" fill="#eed22e"/><rect x="334.7" y="121.7" width="5.6" height="5.6" fill="#f08020"/><rect x="339.7" y="121.7" width="5.6" height="5.6" fill="#3436ac"/><rect x="344.7" y="121.7" width="5.6" height="5.6" fill="#3436ac"/><rect x="349.7" y="121.7" width="5.6" height="5.6" fill="#d81818"/><rect x="354.7" y="121.7" width="5.6" height="5.6" fill="#52bee6"/><rect x="359.7" y="121.7" width="5.6" height="5.6" fill="#eed22e"/><rect x="364.7" y="121.7" width="5.6" height="5.6" fill="#52bee6"/><rect x="369.7" y="121.7" width="5.6" height="5.6" fill="#3436ac"/><rect x="374.7" y="121.7" width="5.6" height="5.6" fill="#a0dcbc"/><rect x="379.7" y="121.7" width="5.6" height="5.6" fill="#3436ac"/><rect x="384.7" y="121.7" width="5.6" height="5.6" fill="#a0dcbc"/><rect x="389.7" y="121.7" width="5.6" height="5.6" fill="#52bee6"/><rect x="394.7" y="121.7" width="5.6" height="5.6" fill="#a0dcbc"/><rect x="399.7" y="121.7" width="5.6" height="5.6" fill="#52bee6"/><rect x="404.7" y="121.7" width="5.6" height="5.6" fill="#3436ac"/><rect x="409.7" y="121.7" width="5.6" height="5.6" fill="#3436ac"/><rect x="414.7" y="121.7" width="5.6" height="5.6" fill="#eed22e"/><rect x="419.7" y="121.7" width="5.6" height="5.6" fill="#f08020"/><rect x="424.7" y="121.7" width="5.6" height="5.6" fill="#c6e286"/><rect x="429.7" y="121.7" width="5.6" height="5.6" fill="#3436ac"/><rect x="434.7" y="121.7" width="5.6" height="5.6" fill="#c6e286"/><rect x="439.7" y="121.7" width="5.6" height="5.6" fill="#eed22e"/><rect x="444.7" y="121.7" width="5.6" height="5.6" fill="#2e2a8c"/><rect x="309.7" y="126.7" width="5.6" height="5.6" fill="#2e2a8c"/><rect x="314.7" y="126.7" width="5.6" height="5.6" fill="#2e2a8c"/><rect x="319.7" y="126.7" width="5.6" height="5.6" fill="#a60c0e"/><rect x="324.7" y="126.7" width="5.6" height="5.6" fill="#d81818"/><rect x="329.7" y="126.7" width="5.6" height="5.6" fill="#eed22e"/><rect x="334.7" y="126.7" width="5.6" height="5.6" fill="#d81818"/><rect x="339.7" y="126.7" width="5.6" height="5.6" fill="#52bee6"/><rect x="344.7" y="126.7" width="5.6" height="5.6" fill="#a0dcbc"/><rect x="349.7" y="126.7" width="5.6" height="5.6" fill="#d81818"/><rect x="354.7" y="126.7" width="5.6" height="5.6" fill="#52bee6"/><rect x="359.7" y="126.7" width="5.6" height="5.6" fill="#52bee6"/><rect x="364.7" y="126.7" width="5.6" height="5.6" fill="#52bee6"/><rect x="369.7" y="126.7" width="5.6" height="5.6" fill="#3436ac"/><rect x="374.7" y="126.7" width="5.6" height="5.6" fill="#a0dcbc"/><rect x="379.7" y="126.7" width="5.6" height="5.6" fill="#a0dcbc"/><rect x="384.7" y="126.7" width="5.6" height="5.6" fill="#a0dcbc"/><rect x="389.7" y="126.7" width="5.6" height="5.6" fill="#52bee6"/><rect x="394.7" y="126.7" width="5.6" height="5.6" fill="#3436ac"/><rect x="399.7" y="126.7" width="5.6" height="5.6" fill="#a0dcbc"/><rect x="404.7" y="126.7" width="5.6" height="5.6" fill="#3436ac"/><rect x="409.7" y="126.7" width="5.6" height="5.6" fill="#2e2a8c"/><rect x="414.7" y="126.7" width="5.6" height="5.6" fill="#52bee6"/><rect x="419.7" y="126.7" width="5.6" height="5.6" fill="#f08020"/><rect x="424.7" y="126.7" width="5.6" height="5.6" fill="#d81818"/><rect x="429.7" y="126.7" width="5.6" height="5.6" fill="#c6e286"/><rect x="434.7" y="126.7" width="5.6" height="5.6" fill="#a0dcbc"/><rect x="439.7" y="126.7" width="5.6" height="5.6" fill="#2e2a8c"/><rect x="444.7" y="126.7" width="5.6" height="5.6" fill="#2e2a8c"/><rect x="309.7" y="131.7" width="5.6" height="5.6" fill="#2e2a8c"/><rect x="314.7" y="131.7" width="5.6" height="5.6" fill="#2e2a8c"/><rect x="319.7" y="131.7" width="5.6" height="5.6" fill="#a60c0e"/><rect x="324.7" y="131.7" width="5.6" height="5.6" fill="#d81818"/><rect x="329.7" y="131.7" width="5.6" height="5.6" fill="#d81818"/><rect x="334.7" y="131.7" width="5.6" height="5.6" fill="#3436ac"/><rect x="339.7" y="131.7" width="5.6" height="5.6" fill="#3436ac"/><rect x="344.7" y="131.7" width="5.6" height="5.6" fill="#a0dcbc"/><rect x="349.7" y="131.7" width="5.6" height="5.6" fill="#52bee6"/><rect x="354.7" y="131.7" width="5.6" height="5.6" fill="#3436ac"/><rect x="359.7" y="131.7" width="5.6" height="5.6" fill="#3436ac"/><rect x="364.7" y="131.7" width="5.6" height="5.6" fill="#52bee6"/><rect x="369.7" y="131.7" width="5.6" height="5.6" fill="#3436ac"/><rect x="374.7" y="131.7" width="5.6" height="5.6" fill="#3436ac"/><rect x="379.7" y="131.7" width="5.6" height="5.6" fill="#a0dcbc"/><rect x="384.7" y="131.7" width="5.6" height="5.6" fill="#eed22e"/><rect x="389.7" y="131.7" width="5.6" height="5.6" fill="#52bee6"/><rect x="394.7" y="131.7" width="5.6" height="5.6" fill="#3436ac"/><rect x="399.7" y="131.7" width="5.6" height="5.6" fill="#a0dcbc"/><rect x="404.7" y="131.7" width="5.6" height="5.6" fill="#3436ac"/><rect x="409.7" y="131.7" width="5.6" height="5.6" fill="#2e2a8c"/><rect x="414.7" y="131.7" width="5.6" height="5.6" fill="#eed22e"/><rect x="419.7" y="131.7" width="5.6" height="5.6" fill="#d81818"/><rect x="424.7" y="131.7" width="5.6" height="5.6" fill="#f08020"/><rect x="429.7" y="131.7" width="5.6" height="5.6" fill="#c6e286"/><rect x="434.7" y="131.7" width="5.6" height="5.6" fill="#2e2a8c"/><rect x="439.7" y="131.7" width="5.6" height="5.6" fill="#2e2a8c"/><rect x="309.7" y="136.7" width="5.6" height="5.6" fill="#2e2a8c"/><rect x="314.7" y="136.7" width="5.6" height="5.6" fill="#2e2a8c"/><rect x="319.7" y="136.7" width="5.6" height="5.6" fill="#a60c0e"/><rect x="324.7" y="136.7" width="5.6" height="5.6" fill="#f08020"/><rect x="329.7" y="136.7" width="5.6" height="5.6" fill="#eed22e"/><rect x="334.7" y="136.7" width="5.6" height="5.6" fill="#52bee6"/><rect x="339.7" y="136.7" width="5.6" height="5.6" fill="#a0dcbc"/><rect x="344.7" y="136.7" width="5.6" height="5.6" fill="#a0dcbc"/><rect x="349.7" y="136.7" width="5.6" height="5.6" fill="#52bee6"/><rect x="354.7" y="136.7" width="5.6" height="5.6" fill="#3436ac"/><rect x="359.7" y="136.7" width="5.6" height="5.6" fill="#52bee6"/><rect x="364.7" y="136.7" width="5.6" height="5.6" fill="#52bee6"/><rect x="369.7" y="136.7" width="5.6" height="5.6" fill="#3436ac"/><rect x="374.7" y="136.7" width="5.6" height="5.6" fill="#3436ac"/><rect x="379.7" y="136.7" width="5.6" height="5.6" fill="#3436ac"/><rect x="384.7" y="136.7" width="5.6" height="5.6" fill="#f08020"/><rect x="389.7" y="136.7" width="5.6" height="5.6" fill="#3436ac"/><rect x="394.7" y="136.7" width="5.6" height="5.6" fill="#3436ac"/><rect x="399.7" y="136.7" width="5.6" height="5.6" fill="#52bee6"/><rect x="404.7" y="136.7" width="5.6" height="5.6" fill="#3436ac"/><rect x="409.7" y="136.7" width="5.6" height="5.6" fill="#2e2a8c"/><rect x="414.7" y="136.7" width="5.6" height="5.6" fill="#2e2a8c"/><rect x="419.7" y="136.7" width="5.6" height="5.6" fill="#eed22e"/><rect x="424.7" y="136.7" width="5.6" height="5.6" fill="#2e2a8c"/><rect x="429.7" y="136.7" width="5.6" height="5.6" fill="#2e2a8c"/><rect x="434.7" y="136.7" width="5.6" height="5.6" fill="#2e2a8c"/><rect x="439.7" y="136.7" width="5.6" height="5.6" fill="#2e2a8c"/><rect x="309.7" y="141.7" width="5.6" height="5.6" fill="#2e2a8c"/><rect x="314.7" y="141.7" width="5.6" height="5.6" fill="#2e2a8c"/><rect x="319.7" y="141.7" width="5.6" height="5.6" fill="#d4e8ee"/><rect x="324.7" y="141.7" width="5.6" height="5.6" fill="#d81818"/><rect x="329.7" y="141.7" width="5.6" height="5.6" fill="#eed22e"/><rect x="334.7" y="141.7" width="5.6" height="5.6" fill="#a0dcbc"/><rect x="339.7" y="141.7" width="5.6" height="5.6" fill="#a0dcbc"/><rect x="344.7" y="141.7" width="5.6" height="5.6" fill="#a0dcbc"/><rect x="349.7" y="141.7" width="5.6" height="5.6" fill="#cedc5c"/><rect x="354.7" y="141.7" width="5.6" height="5.6" fill="#c6e286"/><rect x="359.7" y="141.7" width="5.6" height="5.6" fill="#a0dcbc"/><rect x="364.7" y="141.7" width="5.6" height="5.6" fill="#a0dcbc"/><rect x="369.7" y="141.7" width="5.6" height="5.6" fill="#52bee6"/><rect x="374.7" y="141.7" width="5.6" height="5.6" fill="#52bee6"/><rect x="379.7" y="141.7" width="5.6" height="5.6" fill="#d81818"/><rect x="384.7" y="141.7" width="5.6" height="5.6" fill="#3436ac"/><rect x="389.7" y="141.7" width="5.6" height="5.6" fill="#52bee6"/><rect x="394.7" y="141.7" width="5.6" height="5.6" fill="#3436ac"/><rect x="399.7" y="141.7" width="5.6" height="5.6" fill="#2e2a8c"/><rect x="404.7" y="141.7" width="5.6" height="5.6" fill="#2e2a8c"/><rect x="409.7" y="141.7" width="5.6" height="5.6" fill="#2e2a8c"/><rect x="414.7" y="141.7" width="5.6" height="5.6" fill="#2e2a8c"/><rect x="419.7" y="141.7" width="5.6" height="5.6" fill="#2e2a8c"/><rect x="424.7" y="141.7" width="5.6" height="5.6" fill="#2e2a8c"/><rect x="429.7" y="141.7" width="5.6" height="5.6" fill="#2e2a8c"/><rect x="434.7" y="141.7" width="5.6" height="5.6" fill="#2e2a8c"/><rect x="314.7" y="146.7" width="5.6" height="5.6" fill="#2e2a8c"/><rect x="319.7" y="146.7" width="5.6" height="5.6" fill="#2e2a8c"/><rect x="324.7" y="146.7" width="5.6" height="5.6" fill="#d81818"/><rect x="329.7" y="146.7" width="5.6" height="5.6" fill="#c6e286"/><rect x="334.7" y="146.7" width="5.6" height="5.6" fill="#eed22e"/><rect x="339.7" y="146.7" width="5.6" height="5.6" fill="#eed22e"/><rect x="344.7" y="146.7" width="5.6" height="5.6" fill="#eed22e"/><rect x="349.7" y="146.7" width="5.6" height="5.6" fill="#cedc5c"/><rect x="354.7" y="146.7" width="5.6" height="5.6" fill="#c6e286"/><rect x="359.7" y="146.7" width="5.6" height="5.6" fill="#a0dcbc"/><rect x="364.7" y="146.7" width="5.6" height="5.6" fill="#a0dcbc"/><rect x="369.7" y="146.7" width="5.6" height="5.6" fill="#52bee6"/><rect x="374.7" y="146.7" width="5.6" height="5.6" fill="#cedc5c"/><rect x="379.7" y="146.7" width="5.6" height="5.6" fill="#eed22e"/><rect x="384.7" y="146.7" width="5.6" height="5.6" fill="#3436ac"/><rect x="389.7" y="146.7" width="5.6" height="5.6" fill="#a0dcbc"/><rect x="394.7" y="146.7" width="5.6" height="5.6" fill="#2e2a8c"/><rect x="399.7" y="146.7" width="5.6" height="5.6" fill="#2e2a8c"/><rect x="404.7" y="146.7" width="5.6" height="5.6" fill="#2e2a8c"/><rect x="409.7" y="146.7" width="5.6" height="5.6" fill="#2e2a8c"/><rect x="414.7" y="146.7" width="5.6" height="5.6" fill="#2e2a8c"/><rect x="419.7" y="146.7" width="5.6" height="5.6" fill="#2e2a8c"/><rect x="424.7" y="146.7" width="5.6" height="5.6" fill="#2e2a8c"/><rect x="319.7" y="151.7" width="5.6" height="5.6" fill="#2e2a8c"/><rect x="324.7" y="151.7" width="5.6" height="5.6" fill="#a0dcbc"/><rect x="329.7" y="151.7" width="5.6" height="5.6" fill="#eed22e"/><rect x="334.7" y="151.7" width="5.6" height="5.6" fill="#eed22e"/><rect x="339.7" y="151.7" width="5.6" height="5.6" fill="#cedc5c"/><rect x="344.7" y="151.7" width="5.6" height="5.6" fill="#c6e286"/><rect x="349.7" y="151.7" width="5.6" height="5.6" fill="#a0dcbc"/><rect x="354.7" y="151.7" width="5.6" height="5.6" fill="#a0dcbc"/><rect x="359.7" y="151.7" width="5.6" height="5.6" fill="#a0dcbc"/><rect x="364.7" y="151.7" width="5.6" height="5.6" fill="#a0dcbc"/><rect x="369.7" y="151.7" width="5.6" height="5.6" fill="#a0dcbc"/><rect x="374.7" y="151.7" width="5.6" height="5.6" fill="#eed22e"/><rect x="379.7" y="151.7" width="5.6" height="5.6" fill="#d81818"/><rect x="384.7" y="151.7" width="5.6" height="5.6" fill="#52bee6"/><rect x="389.7" y="151.7" width="5.6" height="5.6" fill="#52bee6"/><rect x="394.7" y="151.7" width="5.6" height="5.6" fill="#2e2a8c"/><rect x="319.7" y="156.7" width="5.6" height="5.6" fill="#2e2a8c"/><rect x="324.7" y="156.7" width="5.6" height="5.6" fill="#2e2a8c"/><rect x="329.7" y="156.7" width="5.6" height="5.6" fill="#f08020"/><rect x="334.7" y="156.7" width="5.6" height="5.6" fill="#cedc5c"/><rect x="339.7" y="156.7" width="5.6" height="5.6" fill="#c6e286"/><rect x="344.7" y="156.7" width="5.6" height="5.6" fill="#a0dcbc"/><rect x="349.7" y="156.7" width="5.6" height="5.6" fill="#a0dcbc"/><rect x="354.7" y="156.7" width="5.6" height="5.6" fill="#a0dcbc"/><rect x="359.7" y="156.7" width="5.6" height="5.6" fill="#a0dcbc"/><rect x="364.7" y="156.7" width="5.6" height="5.6" fill="#a0dcbc"/><rect x="369.7" y="156.7" width="5.6" height="5.6" fill="#a0dcbc"/><rect x="374.7" y="156.7" width="5.6" height="5.6" fill="#cedc5c"/><rect x="379.7" y="156.7" width="5.6" height="5.6" fill="#f08020"/><rect x="384.7" y="156.7" width="5.6" height="5.6" fill="#3436ac"/><rect x="389.7" y="156.7" width="5.6" height="5.6" fill="#2e2a8c"/><rect x="324.7" y="161.7" width="5.6" height="5.6" fill="#2e2a8c"/><rect x="329.7" y="161.7" width="5.6" height="5.6" fill="#f08020"/><rect x="334.7" y="161.7" width="5.6" height="5.6" fill="#c6e286"/><rect x="339.7" y="161.7" width="5.6" height="5.6" fill="#a0dcbc"/><rect x="344.7" y="161.7" width="5.6" height="5.6" fill="#a0dcbc"/><rect x="349.7" y="161.7" width="5.6" height="5.6" fill="#a0dcbc"/><rect x="354.7" y="161.7" width="5.6" height="5.6" fill="#a0dcbc"/><rect x="359.7" y="161.7" width="5.6" height="5.6" fill="#a0dcbc"/><rect x="364.7" y="161.7" width="5.6" height="5.6" fill="#a0dcbc"/><rect x="369.7" y="161.7" width="5.6" height="5.6" fill="#a0dcbc"/><rect x="374.7" y="161.7" width="5.6" height="5.6" fill="#52bee6"/><rect x="379.7" y="161.7" width="5.6" height="5.6" fill="#eed22e"/><rect x="384.7" y="161.7" width="5.6" height="5.6" fill="#2e2a8c"/></g></g></g>
<g filter="url(#bl3)"><g clip-path="url(#cl2)"><rect x="300" y="180" width="155" height="115" fill="#35298e"/><g filter="url(#bl1)"><rect x="344.7" y="187.7" width="5.6" height="5.6" fill="#3a2c96"/><rect x="349.7" y="187.7" width="5.6" height="5.6" fill="#3a2c96"/><rect x="354.7" y="187.7" width="5.6" height="5.6" fill="#3a2c96"/><rect x="359.7" y="187.7" width="5.6" height="5.6" fill="#3a2c96"/><rect x="374.7" y="187.7" width="5.6" height="5.6" fill="#3a2c96"/><rect x="379.7" y="187.7" width="5.6" height="5.6" fill="#3a2c96"/><rect x="384.7" y="187.7" width="5.6" height="5.6" fill="#4a82d4"/><rect x="389.7" y="187.7" width="5.6" height="5.6" fill="#3a2c96"/><rect x="334.7" y="192.7" width="5.6" height="5.6" fill="#3a2c96"/><rect x="339.7" y="192.7" width="5.6" height="5.6" fill="#3a2c96"/><rect x="344.7" y="192.7" width="5.6" height="5.6" fill="#3a2c96"/><rect x="349.7" y="192.7" width="5.6" height="5.6" fill="#3a2c96"/><rect x="354.7" y="192.7" width="5.6" height="5.6" fill="#4a82d4"/><rect x="359.7" y="192.7" width="5.6" height="5.6" fill="#3a2c96"/><rect x="364.7" y="192.7" width="5.6" height="5.6" fill="#3a2c96"/><rect x="369.7" y="192.7" width="5.6" height="5.6" fill="#3a2c96"/><rect x="374.7" y="192.7" width="5.6" height="5.6" fill="#3a2c96"/><rect x="379.7" y="192.7" width="5.6" height="5.6" fill="#3a2c96"/><rect x="384.7" y="192.7" width="5.6" height="5.6" fill="#3a2c96"/><rect x="389.7" y="192.7" width="5.6" height="5.6" fill="#3a2c96"/><rect x="394.7" y="192.7" width="5.6" height="5.6" fill="#3a2c96"/><rect x="399.7" y="192.7" width="5.6" height="5.6" fill="#3a2c96"/><rect x="404.7" y="192.7" width="5.6" height="5.6" fill="#3a2c96"/><rect x="409.7" y="192.7" width="5.6" height="5.6" fill="#3a2c96"/><rect x="329.7" y="197.7" width="5.6" height="5.6" fill="#3a2c96"/><rect x="334.7" y="197.7" width="5.6" height="5.6" fill="#3a2c96"/><rect x="339.7" y="197.7" width="5.6" height="5.6" fill="#d4e8ee"/><rect x="344.7" y="197.7" width="5.6" height="5.6" fill="#3a2c96"/><rect x="349.7" y="197.7" width="5.6" height="5.6" fill="#4a82d4"/><rect x="354.7" y="197.7" width="5.6" height="5.6" fill="#3a2c96"/><rect x="359.7" y="197.7" width="5.6" height="5.6" fill="#4a82d4"/><rect x="364.7" y="197.7" width="5.6" height="5.6" fill="#4a82d4"/><rect x="369.7" y="197.7" width="5.6" height="5.6" fill="#3a2c96"/><rect x="374.7" y="197.7" width="5.6" height="5.6" fill="#3a2c96"/><rect x="379.7" y="197.7" width="5.6" height="5.6" fill="#3a2c96"/><rect x="384.7" y="197.7" width="5.6" height="5.6" fill="#52bee6"/><rect x="389.7" y="197.7" width="5.6" height="5.6" fill="#52bee6"/><rect x="394.7" y="197.7" width="5.6" height="5.6" fill="#52bee6"/><rect x="399.7" y="197.7" width="5.6" height="5.6" fill="#3a2c96"/><rect x="404.7" y="197.7" width="5.6" height="5.6" fill="#3a2c96"/><rect x="409.7" y="197.7" width="5.6" height="5.6" fill="#4a82d4"/><rect x="414.7" y="197.7" width="5.6" height="5.6" fill="#3a2c96"/><rect x="419.7" y="197.7" width="5.6" height="5.6" fill="#3a2c96"/><rect x="324.7" y="202.7" width="5.6" height="5.6" fill="#3a2c96"/><rect x="329.7" y="202.7" width="5.6" height="5.6" fill="#3a2c96"/><rect x="334.7" y="202.7" width="5.6" height="5.6" fill="#3a2c96"/><rect x="339.7" y="202.7" width="5.6" height="5.6" fill="#3a2c96"/><rect x="344.7" y="202.7" width="5.6" height="5.6" fill="#3a2c96"/><rect x="349.7" y="202.7" width="5.6" height="5.6" fill="#4a82d4"/><rect x="354.7" y="202.7" width="5.6" height="5.6" fill="#3a2c96"/><rect x="359.7" y="202.7" width="5.6" height="5.6" fill="#3a2c96"/><rect x="364.7" y="202.7" width="5.6" height="5.6" fill="#3a2c96"/><rect x="369.7" y="202.7" width="5.6" height="5.6" fill="#3a2c96"/><rect x="374.7" y="202.7" width="5.6" height="5.6" fill="#4a82d4"/><rect x="379.7" y="202.7" width="5.6" height="5.6" fill="#3a2c96"/><rect x="384.7" y="202.7" width="5.6" height="5.6" fill="#52bee6"/><rect x="389.7" y="202.7" width="5.6" height="5.6" fill="#52bee6"/><rect x="394.7" y="202.7" width="5.6" height="5.6" fill="#52bee6"/><rect x="399.7" y="202.7" width="5.6" height="5.6" fill="#52bee6"/><rect x="404.7" y="202.7" width="5.6" height="5.6" fill="#3a2c96"/><rect x="409.7" y="202.7" width="5.6" height="5.6" fill="#4a82d4"/><rect x="414.7" y="202.7" width="5.6" height="5.6" fill="#3a2c96"/><rect x="419.7" y="202.7" width="5.6" height="5.6" fill="#3a2c96"/><rect x="424.7" y="202.7" width="5.6" height="5.6" fill="#3a2c96"/><rect x="324.7" y="207.7" width="5.6" height="5.6" fill="#3a2c96"/><rect x="329.7" y="207.7" width="5.6" height="5.6" fill="#52bee6"/><rect x="334.7" y="207.7" width="5.6" height="5.6" fill="#52bee6"/><rect x="339.7" y="207.7" width="5.6" height="5.6" fill="#3a2c96"/><rect x="344.7" y="207.7" width="5.6" height="5.6" fill="#3a2c96"/><rect x="349.7" y="207.7" width="5.6" height="5.6" fill="#3a2c96"/><rect x="354.7" y="207.7" width="5.6" height="5.6" fill="#3a2c96"/><rect x="359.7" y="207.7" width="5.6" height="5.6" fill="#3a2c96"/><rect x="364.7" y="207.7" width="5.6" height="5.6" fill="#3a2c96"/><rect x="369.7" y="207.7" width="5.6" height="5.6" fill="#3a2c96"/><rect x="374.7" y="207.7" width="5.6" height="5.6" fill="#3a2c96"/><rect x="379.7" y="207.7" width="5.6" height="5.6" fill="#3a2c96"/><rect x="384.7" y="207.7" width="5.6" height="5.6" fill="#52bee6"/><rect x="389.7" y="207.7" width="5.6" height="5.6" fill="#52bee6"/><rect x="394.7" y="207.7" width="5.6" height="5.6" fill="#3a2c96"/><rect x="399.7" y="207.7" width="5.6" height="5.6" fill="#52bee6"/><rect x="404.7" y="207.7" width="5.6" height="5.6" fill="#52bee6"/><rect x="409.7" y="207.7" width="5.6" height="5.6" fill="#3a2c96"/><rect x="414.7" y="207.7" width="5.6" height="5.6" fill="#3a2c96"/><rect x="419.7" y="207.7" width="5.6" height="5.6" fill="#3a2c96"/><rect x="424.7" y="207.7" width="5.6" height="5.6" fill="#3a2c96"/><rect x="429.7" y="207.7" width="5.6" height="5.6" fill="#3a2c96"/><rect x="319.7" y="212.7" width="5.6" height="5.6" fill="#3a2c96"/><rect x="324.7" y="212.7" width="5.6" height="5.6" fill="#3a2c96"/><rect x="329.7" y="212.7" width="5.6" height="5.6" fill="#52bee6"/><rect x="334.7" y="212.7" width="5.6" height="5.6" fill="#52bee6"/><rect x="339.7" y="212.7" width="5.6" height="5.6" fill="#3a2c96"/><rect x="344.7" y="212.7" width="5.6" height="5.6" fill="#3a2c96"/><rect x="349.7" y="212.7" width="5.6" height="5.6" fill="#3a2c96"/><rect x="354.7" y="212.7" width="5.6" height="5.6" fill="#3a2c96"/><rect x="359.7" y="212.7" width="5.6" height="5.6" fill="#3a2c96"/><rect x="364.7" y="212.7" width="5.6" height="5.6" fill="#3a2c96"/><rect x="369.7" y="212.7" width="5.6" height="5.6" fill="#3a2c96"/><rect x="374.7" y="212.7" width="5.6" height="5.6" fill="#3a2c96"/><rect x="379.7" y="212.7" width="5.6" height="5.6" fill="#3a2c96"/><rect x="384.7" y="212.7" width="5.6" height="5.6" fill="#52bee6"/><rect x="389.7" y="212.7" width="5.6" height="5.6" fill="#52bee6"/><rect x="394.7" y="212.7" width="5.6" height="5.6" fill="#3a2c96"/><rect x="399.7" y="212.7" width="5.6" height="5.6" fill="#52bee6"/><rect x="404.7" y="212.7" width="5.6" height="5.6" fill="#52bee6"/><rect x="409.7" y="212.7" width="5.6" height="5.6" fill="#52bee6"/><rect x="414.7" y="212.7" width="5.6" height="5.6" fill="#3a2c96"/><rect x="419.7" y="212.7" width="5.6" height="5.6" fill="#3a2c96"/><rect x="424.7" y="212.7" width="5.6" height="5.6" fill="#3a2c96"/><rect x="429.7" y="212.7" width="5.6" height="5.6" fill="#3a2c96"/><rect x="434.7" y="212.7" width="5.6" height="5.6" fill="#3a2c96"/><rect x="314.7" y="217.7" width="5.6" height="5.6" fill="#3a2c96"/><rect x="319.7" y="217.7" width="5.6" height="5.6" fill="#cedc5c"/><rect x="324.7" y="217.7" width="5.6" height="5.6" fill="#52bee6"/><rect x="329.7" y="217.7" width="5.6" height="5.6" fill="#52bee6"/><rect x="334.7" y="217.7" width="5.6" height="5.6" fill="#4a82d4"/><rect x="339.7" y="217.7" width="5.6" height="5.6" fill="#4a82d4"/><rect x="344.7" y="217.7" width="5.6" height="5.6" fill="#3a2c96"/><rect x="349.7" y="217.7" width="5.6" height="5.6" fill="#52bee6"/><rect x="354.7" y="217.7" width="5.6" height="5.6" fill="#52bee6"/><rect x="359.7" y="217.7" width="5.6" height="5.6" fill="#52bee6"/><rect x="364.7" y="217.7" width="5.6" height="5.6" fill="#3a2c96"/><rect x="369.7" y="217.7" width="5.6" height="5.6" fill="#52bee6"/><rect x="374.7" y="217.7" width="5.6" height="5.6" fill="#52bee6"/><rect x="379.7" y="217.7" width="5.6" height="5.6" fill="#3a2c96"/><rect x="384.7" y="217.7" width="5.6" height="5.6" fill="#52bee6"/><rect x="389.7" y="217.7" width="5.6" height="5.6" fill="#52bee6"/><rect x="394.7" y="217.7" width="5.6" height="5.6" fill="#52bee6"/><rect x="399.7" y="217.7" width="5.6" height="5.6" fill="#52bee6"/><rect x="404.7" y="217.7" width="5.6" height="5.6" fill="#52bee6"/><rect x="409.7" y="217.7" width="5.6" height="5.6" fill="#52bee6"/><rect x="414.7" y="217.7" width="5.6" height="5.6" fill="#4a82d4"/><rect x="419.7" y="217.7" width="5.6" height="5.6" fill="#3a2c96"/><rect x="424.7" y="217.7" width="5.6" height="5.6" fill="#3a2c96"/><rect x="429.7" y="217.7" width="5.6" height="5.6" fill="#3a2c96"/><rect x="434.7" y="217.7" width="5.6" height="5.6" fill="#3a2c96"/><rect x="439.7" y="217.7" width="5.6" height="5.6" fill="#3a2c96"/><rect x="309.7" y="222.7" width="5.6" height="5.6" fill="#2e2a8c"/><rect x="314.7" y="222.7" width="5.6" height="5.6" fill="#52bee6"/><rect x="319.7" y="222.7" width="5.6" height="5.6" fill="#52bee6"/><rect x="324.7" y="222.7" width="5.6" height="5.6" fill="#4a82d4"/><rect x="329.7" y="222.7" width="5.6" height="5.6" fill="#52bee6"/><rect x="334.7" y="222.7" width="5.6" height="5.6" fill="#3a2c96"/><rect x="339.7" y="222.7" width="5.6" height="5.6" fill="#4a82d4"/><rect x="344.7" y="222.7" width="5.6" height="5.6" fill="#52bee6"/><rect x="349.7" y="222.7" width="5.6" height="5.6" fill="#52bee6"/><rect x="354.7" y="222.7" width="5.6" height="5.6" fill="#52bee6"/><rect x="359.7" y="222.7" width="5.6" height="5.6" fill="#52bee6"/><rect x="364.7" y="222.7" width="5.6" height="5.6" fill="#52bee6"/><rect x="369.7" y="222.7" width="5.6" height="5.6" fill="#52bee6"/><rect x="374.7" y="222.7" width="5.6" height="5.6" fill="#a0dcbc"/><rect x="379.7" y="222.7" width="5.6" height="5.6" fill="#a0dcbc"/><rect x="384.7" y="222.7" width="5.6" height="5.6" fill="#c6e286"/><rect x="389.7" y="222.7" width="5.6" height="5.6" fill="#a0dcbc"/><rect x="394.7" y="222.7" width="5.6" height="5.6" fill="#52bee6"/><rect x="399.7" y="222.7" width="5.6" height="5.6" fill="#52bee6"/><rect x="404.7" y="222.7" width="5.6" height="5.6" fill="#52bee6"/><rect x="409.7" y="222.7" width="5.6" height="5.6" fill="#52bee6"/><rect x="414.7" y="222.7" width="5.6" height="5.6" fill="#52bee6"/><rect x="419.7" y="222.7" width="5.6" height="5.6" fill="#3a2c96"/><rect x="424.7" y="222.7" width="5.6" height="5.6" fill="#3a2c96"/><rect x="429.7" y="222.7" width="5.6" height="5.6" fill="#3a2c96"/><rect x="434.7" y="222.7" width="5.6" height="5.6" fill="#4a82d4"/><rect x="309.7" y="227.7" width="5.6" height="5.6" fill="#2e2a8c"/><rect x="314.7" y="227.7" width="5.6" height="5.6" fill="#c6e286"/><rect x="319.7" y="227.7" width="5.6" height="5.6" fill="#c6e286"/><rect x="324.7" y="227.7" width="5.6" height="5.6" fill="#52bee6"/><rect x="329.7" y="227.7" width="5.6" height="5.6" fill="#52bee6"/><rect x="334.7" y="227.7" width="5.6" height="5.6" fill="#4a82d4"/><rect x="339.7" y="227.7" width="5.6" height="5.6" fill="#52bee6"/><rect x="344.7" y="227.7" width="5.6" height="5.6" fill="#52bee6"/><rect x="349.7" y="227.7" width="5.6" height="5.6" fill="#52bee6"/><rect x="354.7" y="227.7" width="5.6" height="5.6" fill="#c6e286"/><rect x="359.7" y="227.7" width="5.6" height="5.6" fill="#52bee6"/><rect x="364.7" y="227.7" width="5.6" height="5.6" fill="#3a2c96"/><rect x="369.7" y="227.7" width="5.6" height="5.6" fill="#3a2c96"/><rect x="374.7" y="227.7" width="5.6" height="5.6" fill="#3a2c96"/><rect x="379.7" y="227.7" width="5.6" height="5.6" fill="#3a2c96"/><rect x="384.7" y="227.7" width="5.6" height="5.6" fill="#52bee6"/><rect x="389.7" y="227.7" width="5.6" height="5.6" fill="#3a2c96"/><rect x="394.7" y="227.7" width="5.6" height="5.6" fill="#3a2c96"/><rect x="399.7" y="227.7" width="5.6" height="5.6" fill="#4a82d4"/><rect x="404.7" y="227.7" width="5.6" height="5.6" fill="#52bee6"/><rect x="409.7" y="227.7" width="5.6" height="5.6" fill="#3a2c96"/><rect x="414.7" y="227.7" width="5.6" height="5.6" fill="#52bee6"/><rect x="419.7" y="227.7" width="5.6" height="5.6" fill="#3a2c96"/><rect x="424.7" y="227.7" width="5.6" height="5.6" fill="#3a2c96"/><rect x="429.7" y="227.7" width="5.6" height="5.6" fill="#3a2c96"/><rect x="434.7" y="227.7" width="5.6" height="5.6" fill="#3a2c96"/><rect x="439.7" y="227.7" width="5.6" height="5.6" fill="#4a82d4"/><rect x="309.7" y="232.7" width="5.6" height="5.6" fill="#2e2a8c"/><rect x="314.7" y="232.7" width="5.6" height="5.6" fill="#c6e286"/><rect x="319.7" y="232.7" width="5.6" height="5.6" fill="#c6e286"/><rect x="324.7" y="232.7" width="5.6" height="5.6" fill="#c6e286"/><rect x="329.7" y="232.7" width="5.6" height="5.6" fill="#52bee6"/><rect x="334.7" y="232.7" width="5.6" height="5.6" fill="#52bee6"/><rect x="339.7" y="232.7" width="5.6" height="5.6" fill="#4a82d4"/><rect x="344.7" y="232.7" width="5.6" height="5.6" fill="#a0dcbc"/><rect x="349.7" y="232.7" width="5.6" height="5.6" fill="#a0dcbc"/><rect x="354.7" y="232.7" width="5.6" height="5.6" fill="#52bee6"/><rect x="359.7" y="232.7" width="5.6" height="5.6" fill="#52bee6"/><rect x="364.7" y="232.7" width="5.6" height="5.6" fill="#3a2c96"/><rect x="369.7" y="232.7" width="5.6" height="5.6" fill="#a0dcbc"/><rect x="374.7" y="232.7" width="5.6" height="5.6" fill="#c6e286"/><rect x="379.7" y="232.7" width="5.6" height="5.6" fill="#3a2c96"/><rect x="384.7" y="232.7" width="5.6" height="5.6" fill="#3a2c96"/><rect x="389.7" y="232.7" width="5.6" height="5.6" fill="#3a2c96"/><rect x="394.7" y="232.7" width="5.6" height="5.6" fill="#4a82d4"/><rect x="399.7" y="232.7" width="5.6" height="5.6" fill="#52bee6"/><rect x="404.7" y="232.7" width="5.6" height="5.6" fill="#52bee6"/><rect x="409.7" y="232.7" width="5.6" height="5.6" fill="#52bee6"/><rect x="414.7" y="232.7" width="5.6" height="5.6" fill="#3a2c96"/><rect x="419.7" y="232.7" width="5.6" height="5.6" fill="#4a82d4"/><rect x="424.7" y="232.7" width="5.6" height="5.6" fill="#4a82d4"/><rect x="429.7" y="232.7" width="5.6" height="5.6" fill="#3a2c96"/><rect x="434.7" y="232.7" width="5.6" height="5.6" fill="#3a2c96"/><rect x="439.7" y="232.7" width="5.6" height="5.6" fill="#3a2c96"/><rect x="309.7" y="237.7" width="5.6" height="5.6" fill="#2e2a8c"/><rect x="314.7" y="237.7" width="5.6" height="5.6" fill="#a0dcbc"/><rect x="319.7" y="237.7" width="5.6" height="5.6" fill="#c6e286"/><rect x="324.7" y="237.7" width="5.6" height="5.6" fill="#3a2c96"/><rect x="329.7" y="237.7" width="5.6" height="5.6" fill="#3a2c96"/><rect x="334.7" y="237.7" width="5.6" height="5.6" fill="#3a2c96"/><rect x="339.7" y="237.7" width="5.6" height="5.6" fill="#3a2c96"/><rect x="344.7" y="237.7" width="5.6" height="5.6" fill="#3a2c96"/><rect x="349.7" y="237.7" width="5.6" height="5.6" fill="#52bee6"/><rect x="354.7" y="237.7" width="5.6" height="5.6" fill="#3a2c96"/><rect x="359.7" y="237.7" width="5.6" height="5.6" fill="#3a2c96"/><rect x="364.7" y="237.7" width="5.6" height="5.6" fill="#3a2c96"/><rect x="369.7" y="237.7" width="5.6" height="5.6" fill="#a0dcbc"/><rect x="374.7" y="237.7" width="5.6" height="5.6" fill="#52bee6"/><rect x="379.7" y="237.7" width="5.6" height="5.6" fill="#3a2c96"/><rect x="384.7" y="237.7" width="5.6" height="5.6" fill="#3a2c96"/><rect x="389.7" y="237.7" width="5.6" height="5.6" fill="#3a2c96"/><rect x="394.7" y="237.7" width="5.6" height="5.6" fill="#3a2c96"/><rect x="399.7" y="237.7" width="5.6" height="5.6" fill="#52bee6"/><rect x="404.7" y="237.7" width="5.6" height="5.6" fill="#3a2c96"/><rect x="409.7" y="237.7" width="5.6" height="5.6" fill="#52bee6"/><rect x="414.7" y="237.7" width="5.6" height="5.6" fill="#52bee6"/><rect x="419.7" y="237.7" width="5.6" height="5.6" fill="#52bee6"/><rect x="424.7" y="237.7" width="5.6" height="5.6" fill="#4a82d4"/><rect x="429.7" y="237.7" width="5.6" height="5.6" fill="#3a2c96"/><rect x="434.7" y="237.7" width="5.6" height="5.6" fill="#3a2c96"/><rect x="439.7" y="237.7" width="5.6" height="5.6" fill="#3a2c96"/><rect x="309.7" y="242.7" width="5.6" height="5.6" fill="#2e2a8c"/><rect x="314.7" y="242.7" width="5.6" height="5.6" fill="#a0dcbc"/><rect x="319.7" y="242.7" width="5.6" height="5.6" fill="#c6e286"/><rect x="324.7" y="242.7" width="5.6" height="5.6" fill="#3a2c96"/><rect x="329.7" y="242.7" width="5.6" height="5.6" fill="#3a2c96"/><rect x="334.7" y="242.7" width="5.6" height="5.6" fill="#3a2c96"/><rect x="339.7" y="242.7" width="5.6" height="5.6" fill="#3a2c96"/><rect x="344.7" y="242.7" width="5.6" height="5.6" fill="#3a2c96"/><rect x="349.7" y="242.7" width="5.6" height="5.6" fill="#3a2c96"/><rect x="354.7" y="242.7" width="5.6" height="5.6" fill="#3a2c96"/><rect x="359.7" y="242.7" width="5.6" height="5.6" fill="#3a2c96"/><rect x="364.7" y="242.7" width="5.6" height="5.6" fill="#3a2c96"/><rect x="369.7" y="242.7" width="5.6" height="5.6" fill="#52bee6"/><rect x="374.7" y="242.7" width="5.6" height="5.6" fill="#52bee6"/><rect x="379.7" y="242.7" width="5.6" height="5.6" fill="#3a2c96"/><rect x="384.7" y="242.7" width="5.6" height="5.6" fill="#52bee6"/><rect x="389.7" y="242.7" width="5.6" height="5.6" fill="#3a2c96"/><rect x="394.7" y="242.7" width="5.6" height="5.6" fill="#3a2c96"/><rect x="399.7" y="242.7" width="5.6" height="5.6" fill="#3a2c96"/><rect x="404.7" y="242.7" width="5.6" height="5.6" fill="#3a2c96"/><rect x="409.7" y="242.7" width="5.6" height="5.6" fill="#3a2c96"/><rect x="414.7" y="242.7" width="5.6" height="5.6" fill="#3a2c96"/><rect x="419.7" y="242.7" width="5.6" height="5.6" fill="#4a82d4"/><rect x="424.7" y="242.7" width="5.6" height="5.6" fill="#3a2c96"/><rect x="429.7" y="242.7" width="5.6" height="5.6" fill="#3a2c96"/><rect x="434.7" y="242.7" width="5.6" height="5.6" fill="#3a2c96"/><rect x="439.7" y="242.7" width="5.6" height="5.6" fill="#3a2c96"/><rect x="309.7" y="247.7" width="5.6" height="5.6" fill="#2e2a8c"/><rect x="314.7" y="247.7" width="5.6" height="5.6" fill="#a0dcbc"/><rect x="319.7" y="247.7" width="5.6" height="5.6" fill="#c6e286"/><rect x="324.7" y="247.7" width="5.6" height="5.6" fill="#3a2c96"/><rect x="329.7" y="247.7" width="5.6" height="5.6" fill="#3a2c96"/><rect x="334.7" y="247.7" width="5.6" height="5.6" fill="#3a2c96"/><rect x="339.7" y="247.7" width="5.6" height="5.6" fill="#3a2c96"/><rect x="344.7" y="247.7" width="5.6" height="5.6" fill="#3a2c96"/><rect x="349.7" y="247.7" width="5.6" height="5.6" fill="#3a2c96"/><rect x="354.7" y="247.7" width="5.6" height="5.6" fill="#3a2c96"/><rect x="359.7" y="247.7" width="5.6" height="5.6" fill="#3a2c96"/><rect x="364.7" y="247.7" width="5.6" height="5.6" fill="#3a2c96"/><rect x="369.7" y="247.7" width="5.6" height="5.6" fill="#3a2c96"/><rect x="374.7" y="247.7" width="5.6" height="5.6" fill="#52bee6"/><rect x="379.7" y="247.7" width="5.6" height="5.6" fill="#3a2c96"/><rect x="384.7" y="247.7" width="5.6" height="5.6" fill="#52bee6"/><rect x="389.7" y="247.7" width="5.6" height="5.6" fill="#a0dcbc"/><rect x="394.7" y="247.7" width="5.6" height="5.6" fill="#52bee6"/><rect x="399.7" y="247.7" width="5.6" height="5.6" fill="#3a2c96"/><rect x="404.7" y="247.7" width="5.6" height="5.6" fill="#52bee6"/><rect x="409.7" y="247.7" width="5.6" height="5.6" fill="#52bee6"/><rect x="414.7" y="247.7" width="5.6" height="5.6" fill="#52bee6"/><rect x="419.7" y="247.7" width="5.6" height="5.6" fill="#4a82d4"/><rect x="424.7" y="247.7" width="5.6" height="5.6" fill="#3a2c96"/><rect x="429.7" y="247.7" width="5.6" height="5.6" fill="#3a2c96"/><rect x="434.7" y="247.7" width="5.6" height="5.6" fill="#3a2c96"/><rect x="439.7" y="247.7" width="5.6" height="5.6" fill="#4a82d4"/><rect x="309.7" y="252.7" width="5.6" height="5.6" fill="#2e2a8c"/><rect x="314.7" y="252.7" width="5.6" height="5.6" fill="#a0dcbc"/><rect x="319.7" y="252.7" width="5.6" height="5.6" fill="#f08020"/><rect x="324.7" y="252.7" width="5.6" height="5.6" fill="#52bee6"/><rect x="329.7" y="252.7" width="5.6" height="5.6" fill="#3a2c96"/><rect x="334.7" y="252.7" width="5.6" height="5.6" fill="#3a2c96"/><rect x="339.7" y="252.7" width="5.6" height="5.6" fill="#3a2c96"/><rect x="344.7" y="252.7" width="5.6" height="5.6" fill="#3a2c96"/><rect x="349.7" y="252.7" width="5.6" height="5.6" fill="#3a2c96"/><rect x="354.7" y="252.7" width="5.6" height="5.6" fill="#3a2c96"/><rect x="359.7" y="252.7" width="5.6" height="5.6" fill="#3a2c96"/><rect x="364.7" y="252.7" width="5.6" height="5.6" fill="#3a2c96"/><rect x="369.7" y="252.7" width="5.6" height="5.6" fill="#3a2c96"/><rect x="374.7" y="252.7" width="5.6" height="5.6" fill="#52bee6"/><rect x="379.7" y="252.7" width="5.6" height="5.6" fill="#3a2c96"/><rect x="384.7" y="252.7" width="5.6" height="5.6" fill="#52bee6"/><rect x="389.7" y="252.7" width="5.6" height="5.6" fill="#a0dcbc"/><rect x="394.7" y="252.7" width="5.6" height="5.6" fill="#52bee6"/><rect x="399.7" y="252.7" width="5.6" height="5.6" fill="#52bee6"/><rect x="404.7" y="252.7" width="5.6" height="5.6" fill="#52bee6"/><rect x="409.7" y="252.7" width="5.6" height="5.6" fill="#52bee6"/><rect x="414.7" y="252.7" width="5.6" height="5.6" fill="#52bee6"/><rect x="419.7" y="252.7" width="5.6" height="5.6" fill="#4a82d4"/><rect x="424.7" y="252.7" width="5.6" height="5.6" fill="#4a82d4"/><rect x="429.7" y="252.7" width="5.6" height="5.6" fill="#3a2c96"/><rect x="434.7" y="252.7" width="5.6" height="5.6" fill="#a0dcbc"/><rect x="439.7" y="252.7" width="5.6" height="5.6" fill="#3a2c96"/><rect x="309.7" y="257.7" width="5.6" height="5.6" fill="#2e2a8c"/><rect x="314.7" y="257.7" width="5.6" height="5.6" fill="#52bee6"/><rect x="319.7" y="257.7" width="5.6" height="5.6" fill="#d81818"/><rect x="324.7" y="257.7" width="5.6" height="5.6" fill="#c6e286"/><rect x="329.7" y="257.7" width="5.6" height="5.6" fill="#52bee6"/><rect x="334.7" y="257.7" width="5.6" height="5.6" fill="#4a82d4"/><rect x="339.7" y="257.7" width="5.6" height="5.6" fill="#4a82d4"/><rect x="344.7" y="257.7" width="5.6" height="5.6" fill="#3a2c96"/><rect x="349.7" y="257.7" width="5.6" height="5.6" fill="#3a2c96"/><rect x="354.7" y="257.7" width="5.6" height="5.6" fill="#3a2c96"/><rect x="359.7" y="257.7" width="5.6" height="5.6" fill="#3a2c96"/><rect x="364.7" y="257.7" width="5.6" height="5.6" fill="#3a2c96"/><rect x="369.7" y="257.7" width="5.6" height="5.6" fill="#3a2c96"/><rect x="374.7" y="257.7" width="5.6" height="5.6" fill="#3a2c96"/><rect x="379.7" y="257.7" width="5.6" height="5.6" fill="#52bee6"/><rect x="384.7" y="257.7" width="5.6" height="5.6" fill="#3a2c96"/><rect x="389.7" y="257.7" width="5.6" height="5.6" fill="#52bee6"/><rect x="394.7" y="257.7" width="5.6" height="5.6" fill="#52bee6"/><rect x="399.7" y="257.7" width="5.6" height="5.6" fill="#eed22e"/><rect x="404.7" y="257.7" width="5.6" height="5.6" fill="#eed22e"/><rect x="409.7" y="257.7" width="5.6" height="5.6" fill="#52bee6"/><rect x="414.7" y="257.7" width="5.6" height="5.6" fill="#cedc5c"/><rect x="419.7" y="257.7" width="5.6" height="5.6" fill="#cedc5c"/><rect x="424.7" y="257.7" width="5.6" height="5.6" fill="#a0dcbc"/><rect x="429.7" y="257.7" width="5.6" height="5.6" fill="#52bee6"/><rect x="434.7" y="257.7" width="5.6" height="5.6" fill="#a0dcbc"/><rect x="439.7" y="257.7" width="5.6" height="5.6" fill="#3a2c96"/><rect x="309.7" y="262.7" width="5.6" height="5.6" fill="#2e2a8c"/><rect x="314.7" y="262.7" width="5.6" height="5.6" fill="#2e2a8c"/><rect x="319.7" y="262.7" width="5.6" height="5.6" fill="#52bee6"/><rect x="324.7" y="262.7" width="5.6" height="5.6" fill="#a0dcbc"/><rect x="329.7" y="262.7" width="5.6" height="5.6" fill="#c6e286"/><rect x="334.7" y="262.7" width="5.6" height="5.6" fill="#c6e286"/><rect x="339.7" y="262.7" width="5.6" height="5.6" fill="#52bee6"/><rect x="344.7" y="262.7" width="5.6" height="5.6" fill="#a0dcbc"/><rect x="349.7" y="262.7" width="5.6" height="5.6" fill="#a0dcbc"/><rect x="354.7" y="262.7" width="5.6" height="5.6" fill="#52bee6"/><rect x="359.7" y="262.7" width="5.6" height="5.6" fill="#a0dcbc"/><rect x="364.7" y="262.7" width="5.6" height="5.6" fill="#a0dcbc"/><rect x="369.7" y="262.7" width="5.6" height="5.6" fill="#52bee6"/><rect x="374.7" y="262.7" width="5.6" height="5.6" fill="#3a2c96"/><rect x="379.7" y="262.7" width="5.6" height="5.6" fill="#3a2c96"/><rect x="384.7" y="262.7" width="5.6" height="5.6" fill="#4a82d4"/><rect x="389.7" y="262.7" width="5.6" height="5.6" fill="#3a2c96"/><rect x="394.7" y="262.7" width="5.6" height="5.6" fill="#3a2c96"/><rect x="399.7" y="262.7" width="5.6" height="5.6" fill="#eed22e"/><rect x="404.7" y="262.7" width="5.6" height="5.6" fill="#eed22e"/><rect x="409.7" y="262.7" width="5.6" height="5.6" fill="#52bee6"/><rect x="414.7" y="262.7" width="5.6" height="5.6" fill="#cedc5c"/><rect x="419.7" y="262.7" width="5.6" height="5.6" fill="#cedc5c"/><rect x="424.7" y="262.7" width="5.6" height="5.6" fill="#52bee6"/><rect x="429.7" y="262.7" width="5.6" height="5.6" fill="#52bee6"/><rect x="434.7" y="262.7" width="5.6" height="5.6" fill="#3a2c96"/><rect x="314.7" y="267.7" width="5.6" height="5.6" fill="#2e2a8c"/><rect x="319.7" y="267.7" width="5.6" height="5.6" fill="#52bee6"/><rect x="324.7" y="267.7" width="5.6" height="5.6" fill="#c6e286"/><rect x="329.7" y="267.7" width="5.6" height="5.6" fill="#cedc5c"/><rect x="334.7" y="267.7" width="5.6" height="5.6" fill="#c6e286"/><rect x="339.7" y="267.7" width="5.6" height="5.6" fill="#c6e286"/><rect x="344.7" y="267.7" width="5.6" height="5.6" fill="#52bee6"/><rect x="349.7" y="267.7" width="5.6" height="5.6" fill="#52bee6"/><rect x="354.7" y="267.7" width="5.6" height="5.6" fill="#52bee6"/><rect x="359.7" y="267.7" width="5.6" height="5.6" fill="#eed22e"/><rect x="364.7" y="267.7" width="5.6" height="5.6" fill="#c6e286"/><rect x="369.7" y="267.7" width="5.6" height="5.6" fill="#52bee6"/><rect x="374.7" y="267.7" width="5.6" height="5.6" fill="#3a2c96"/><rect x="379.7" y="267.7" width="5.6" height="5.6" fill="#3a2c96"/><rect x="384.7" y="267.7" width="5.6" height="5.6" fill="#3a2c96"/><rect x="389.7" y="267.7" width="5.6" height="5.6" fill="#3a2c96"/><rect x="394.7" y="267.7" width="5.6" height="5.6" fill="#3a2c96"/><rect x="399.7" y="267.7" width="5.6" height="5.6" fill="#3a2c96"/><rect x="404.7" y="267.7" width="5.6" height="5.6" fill="#2e2a8c"/><rect x="409.7" y="267.7" width="5.6" height="5.6" fill="#2e2a8c"/><rect x="414.7" y="267.7" width="5.6" height="5.6" fill="#2e2a8c"/><rect x="419.7" y="267.7" width="5.6" height="5.6" fill="#2e2a8c"/><rect x="424.7" y="267.7" width="5.6" height="5.6" fill="#2e2a8c"/><rect x="314.7" y="272.7" width="5.6" height="5.6" fill="#2e2a8c"/><rect x="319.7" y="272.7" width="5.6" height="5.6" fill="#2e2a8c"/><rect x="324.7" y="272.7" width="5.6" height="5.6" fill="#f08020"/><rect x="329.7" y="272.7" width="5.6" height="5.6" fill="#eed22e"/><rect x="334.7" y="272.7" width="5.6" height="5.6" fill="#c6e286"/><rect x="339.7" y="272.7" width="5.6" height="5.6" fill="#c6e286"/><rect x="344.7" y="272.7" width="5.6" height="5.6" fill="#a0dcbc"/><rect x="349.7" y="272.7" width="5.6" height="5.6" fill="#a0dcbc"/><rect x="354.7" y="272.7" width="5.6" height="5.6" fill="#52bee6"/><rect x="359.7" y="272.7" width="5.6" height="5.6" fill="#eed22e"/><rect x="364.7" y="272.7" width="5.6" height="5.6" fill="#c6e286"/><rect x="369.7" y="272.7" width="5.6" height="5.6" fill="#52bee6"/><rect x="374.7" y="272.7" width="5.6" height="5.6" fill="#3a2c96"/><rect x="379.7" y="272.7" width="5.6" height="5.6" fill="#3a2c96"/><rect x="384.7" y="272.7" width="5.6" height="5.6" fill="#3a2c96"/><rect x="389.7" y="272.7" width="5.6" height="5.6" fill="#3a2c96"/><rect x="394.7" y="272.7" width="5.6" height="5.6" fill="#3a2c96"/><rect x="319.7" y="277.7" width="5.6" height="5.6" fill="#2e2a8c"/><rect x="324.7" y="277.7" width="5.6" height="5.6" fill="#2e2a8c"/><rect x="329.7" y="277.7" width="5.6" height="5.6" fill="#a0dcbc"/><rect x="334.7" y="277.7" width="5.6" height="5.6" fill="#a0dcbc"/><rect x="339.7" y="277.7" width="5.6" height="5.6" fill="#a0dcbc"/><rect x="344.7" y="277.7" width="5.6" height="5.6" fill="#52bee6"/><rect x="349.7" y="277.7" width="5.6" height="5.6" fill="#a0dcbc"/><rect x="354.7" y="277.7" width="5.6" height="5.6" fill="#a0dcbc"/><rect x="359.7" y="277.7" width="5.6" height="5.6" fill="#a0dcbc"/><rect x="364.7" y="277.7" width="5.6" height="5.6" fill="#52bee6"/><rect x="369.7" y="277.7" width="5.6" height="5.6" fill="#3a2c96"/><rect x="374.7" y="277.7" width="5.6" height="5.6" fill="#3a2c96"/><rect x="379.7" y="277.7" width="5.6" height="5.6" fill="#3a2c96"/><rect x="334.7" y="282.7" width="5.6" height="5.6" fill="#2e2a8c"/><rect x="339.7" y="282.7" width="5.6" height="5.6" fill="#2e2a8c"/><rect x="344.7" y="282.7" width="5.6" height="5.6" fill="#2e2a8c"/><rect x="349.7" y="282.7" width="5.6" height="5.6" fill="#2e2a8c"/><rect x="354.7" y="282.7" width="5.6" height="5.6" fill="#2e2a8c"/><rect x="359.7" y="282.7" width="5.6" height="5.6" fill="#52bee6"/><rect x="364.7" y="282.7" width="5.6" height="5.6" fill="#2e2a8c"/><rect x="369.7" y="282.7" width="5.6" height="5.6" fill="#3a2c96"/><rect x="374.7" y="282.7" width="5.6" height="5.6" fill="#3a2c96"/></g></g></g>
<g clip-path="url(#cu2)"><g filter="url(#bl4)"><polygon points="357,110 366,108.5 376,110 392,111.5 392,116.5 376,117.5 366,118 357,117.5" fill="#2e30a8" opacity="0.8"/><polygon points="372.5,93 386,93 379,101" fill="#2e2aa0" opacity="0.85"/><ellipse cx="354.5" cy="128" rx="5" ry="4" fill="#f0d040" opacity="0.7"/><ellipse cx="354.5" cy="128" rx="3.8" ry="2.9" fill="#c80c0c"/><ellipse cx="390" cy="104.5" rx="4.2" ry="4.2" fill="#f0c838" opacity="0.7"/><ellipse cx="390" cy="104.5" rx="2.7" ry="2.9" fill="#d81a0c"/><polygon points="352,68.6 396,68.6 396,78 386,79.5 370,79.5 352,79" fill="#cc1010" opacity="0.75"/><rect x="356.3" y="68.6" width="2.6" height="9" fill="#f4e890" opacity="0.75"/><rect x="375" y="68.6" width="2.6" height="9" fill="#f4e890" opacity="0.75"/><rect x="386" y="68.6" width="2.6" height="9" fill="#f4e890" opacity="0.75"/></g></g>
<g filter="url(#bl2)"><path d="M396,78.5 L406,80.5 L415,84.5 L422,89.5 L427,94" fill="none" stroke="#c41010" stroke-width="6.5" stroke-linecap="round" stroke-linejoin="round" opacity="0.8"/><path d="M340,83.5 L333.5,86.5 L329,91 L326.3,97 L323.8,104 L321.8,111 L320.9,120 L321,128 L323,134" fill="none" stroke="#a80c0c" stroke-width="4.8" stroke-linecap="round" stroke-linejoin="round" opacity="0.92"/><path d="M322.5,130 L325.5,140 L327,150" fill="none" stroke="#aa0c0c" stroke-width="6" stroke-linecap="round" stroke-linejoin="round" opacity="0.9"/><path d="M325,132.5 L334,131" fill="none" stroke="#c01010" stroke-width="3.6" stroke-linecap="round" stroke-linejoin="round" opacity="0.8"/><path d="M331,83.5 L326.5,90 L323.3,98 L320,106 L318,114 L317.4,125 L318,132 L320.5,142 L323,150" fill="none" stroke="#d8ecf0" stroke-width="1.2" stroke-linecap="round" stroke-linejoin="round" opacity="0.7"/><path d="M396,73.8 L405,76.3 L414,80 L422,84.5 L430,90.5 L436,96.5 L440,102" fill="none" stroke="#d8ecf0" stroke-width="1.0" stroke-linecap="round" stroke-linejoin="round" opacity="0.6"/><path d="M413,142.3 L429,142.6" fill="none" stroke="#b8e8f6" stroke-width="2" stroke-linecap="round" stroke-linejoin="round" /></g>
<g filter="url(#bl2)"><ellipse cx="339" cy="201.5" rx="3" ry="5.2" fill="#c4e27a"/><ellipse cx="339" cy="201.3" rx="1.3" ry="2.2" fill="#18180c"/><ellipse cx="322" cy="221.5" rx="2.8" ry="3.6" fill="#a8dcc0"/><ellipse cx="322" cy="221.5" rx="1.2" ry="1.6" fill="#202810"/><ellipse cx="358" cy="208.5" rx="3.3" ry="4" fill="#0e0c24"/><ellipse cx="362.5" cy="252" rx="3.3" ry="3.6" fill="#0e0c24"/><path d="M427,209.5 L428,217.5 L434.5,220.5" fill="none" stroke="#c8e070" stroke-width="3.5" stroke-linecap="round" stroke-linejoin="round" /><path d="M376,288.5 L380.5,278" fill="none" stroke="#e4f0b4" stroke-width="3.2" stroke-linecap="round" stroke-linejoin="round" /><path d="M385.5,276.5 L389,269.5 L392.5,263.5" fill="none" stroke="#e4f0b4" stroke-width="3.2" stroke-linecap="round" stroke-linejoin="round" /><path d="M393.5,263.5 L395,268 L396.3,273" fill="none" stroke="#e4f0b4" stroke-width="3" stroke-linecap="round" stroke-linejoin="round" /><ellipse cx="377.4" cy="285.3" rx="0.9" ry="1.0" fill="#5a6a30"/><ellipse cx="379.2" cy="281.2" rx="0.9" ry="1.0" fill="#5a6a30"/><ellipse cx="387" cy="273.3" rx="0.9" ry="1.0" fill="#5a6a30"/><ellipse cx="390.2" cy="267.8" rx="0.9" ry="1.0" fill="#5a6a30"/><ellipse cx="395.2" cy="269.5" rx="0.9" ry="1.0" fill="#5a6a30"/><ellipse cx="393" cy="265.5" rx="2.2" ry="2.2" fill="#e05010"/><ellipse cx="379" cy="260" rx="1.8" ry="2.5" fill="#60c0e8"/><ellipse cx="405" cy="261.5" rx="4" ry="4.5" fill="#f0d838"/><ellipse cx="405" cy="261.5" rx="2" ry="2.2" fill="#e06010"/><ellipse cx="420" cy="263.5" rx="6.5" ry="3.2" fill="#d8e060"/><ellipse cx="415" cy="263" rx="1.4" ry="1.4" fill="#302810"/><ellipse cx="320.5" cy="260" rx="2.6" ry="4.5" fill="#e86010"/><ellipse cx="320.5" cy="260" rx="1.5" ry="2.8" fill="#c01010"/><ellipse cx="325" cy="274.5" rx="2.4" ry="2.4" fill="#e06a10"/><ellipse cx="361" cy="276" rx="4" ry="4" fill="#e8e030"/></g>
<line x1="302.3" y1="86.7" x2="316.14" y2="98.30" stroke="#f2b02c" stroke-width="2.2"/>
<polygon points="321.5,102.8 312.67,100.88 318.07,94.44" fill="#f2b02c"/>
<line x1="302" y1="209" x2="313.72" y2="219.20" stroke="#f2b02c" stroke-width="2.2"/>
<polygon points="319,223.8 310.21,221.71 315.72,215.38" fill="#f2b02c"/>
<defs><linearGradient id="cb" x1="0" y1="0" x2="0" y2="1">
<stop offset="0" stop-color="#a80c10"/>
<stop offset="0.03" stop-color="#d81414"/>
<stop offset="0.15" stop-color="#e01616"/>
<stop offset="0.26" stop-color="#e84818"/>
<stop offset="0.33" stop-color="#f07818"/>
<stop offset="0.39" stop-color="#f4a824"/>
<stop offset="0.45" stop-color="#f0cc28"/>
<stop offset="0.50" stop-color="#dcd034"/>
<stop offset="0.56" stop-color="#b8c858"/>
<stop offset="0.62" stop-color="#98c880"/>
<stop offset="0.67" stop-color="#80c8a8"/>
<stop offset="0.72" stop-color="#6cc4cc"/>
<stop offset="0.77" stop-color="#50b4e0"/>
<stop offset="0.82" stop-color="#4088d0"/>
<stop offset="0.86" stop-color="#4458b8"/>
<stop offset="0.90" stop-color="#4034a0"/>
<stop offset="1" stop-color="#3a2c94"/>
</linearGradient></defs>
<rect x="455.8" y="58.2" width="9.6" height="235.6" fill="url(#cb)"/>
<g font-size="11.3" fill="#f2f2f2">
<text x="472.2" y="64.9">120</text>
<text x="472.2" y="114.8">90</text>
<text x="472.2" y="179.7">60</text>
<text x="472.2" y="241.7">30</text>
<text x="472.2" y="294.0">0</text>
</g>
<text transform="translate(497.3,114.4) rotate(90) scale(0.952,1)" font-size="11.4" fill="#f2f2f2">Flow signal (ml/100g/min)</text>
<rect x="0.5" y="0.5" width="519" height="414" fill="none" stroke="#222" stroke-width="1"/>
</svg></body></html>
